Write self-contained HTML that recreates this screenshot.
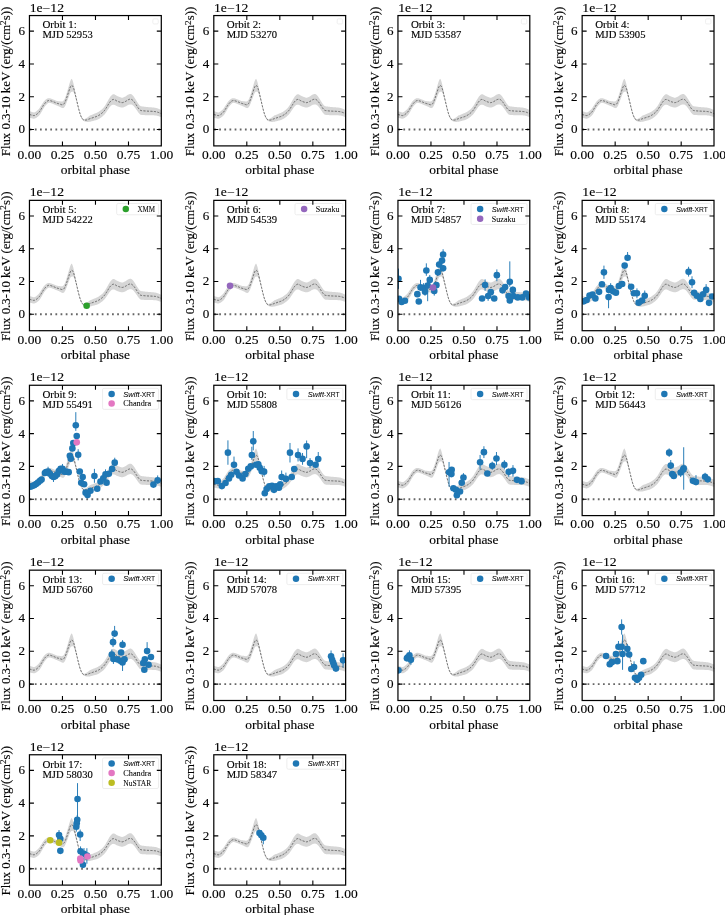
<!DOCTYPE html><html><head><meta charset="utf-8"><style>html,body{margin:0;padding:0;background:#fff;width:725px;height:915px;overflow:hidden}svg{display:block}</style></head><body><svg style="will-change:transform" width="725" height="915" viewBox="0 0 725 915"><rect width="725" height="915" fill="#fff"/><defs><g id="mdl"><path d="M29.45,111.14 L29.62,111.20 L29.85,111.28 L30.13,111.37 L30.43,111.47 L30.75,111.58 L31.08,111.68 L31.40,111.78 L31.69,111.87 L31.98,111.95 L32.27,112.05 L32.55,112.14 L32.84,112.23 L33.13,112.31 L33.41,112.37 L33.68,112.42 L33.94,112.43 L34.19,112.42 L34.43,112.38 L34.67,112.32 L34.90,112.23 L35.12,112.11 L35.34,111.98 L35.57,111.85 L35.79,111.71 L36.01,111.56 L36.22,111.41 L36.44,111.24 L36.65,111.06 L36.86,110.87 L37.07,110.67 L37.29,110.47 L37.51,110.26 L37.73,110.05 L37.95,109.84 L38.17,109.63 L38.40,109.42 L38.63,109.18 L38.86,108.92 L39.10,108.63 L39.35,108.30 L39.62,107.93 L39.89,107.51 L40.18,107.06 L40.47,106.58 L40.76,106.11 L41.05,105.68 L41.33,105.26 L41.60,104.86 L41.86,104.46 L42.11,104.06 L42.36,103.66 L42.61,103.27 L42.85,102.88 L43.09,102.50 L43.33,102.14 L43.58,101.80 L43.83,101.49 L44.07,101.20 L44.32,100.92 L44.57,100.65 L44.82,100.40 L45.06,100.16 L45.31,99.93 L45.56,99.71 L45.81,99.51 L46.06,99.31 L46.31,99.13 L46.57,98.96 L46.82,98.80 L47.06,98.66 L47.31,98.54 L47.54,98.44 L47.77,98.36 L47.98,98.30 L48.19,98.25 L48.40,98.22 L48.61,98.21 L48.82,98.21 L49.03,98.20 L49.26,98.20 L49.49,98.21 L49.72,98.24 L49.95,98.29 L50.19,98.35 L50.44,98.42 L50.69,98.51 L50.96,98.60 L51.24,98.69 L51.54,98.79 L51.85,98.89 L52.18,99.01 L52.52,99.14 L52.86,99.27 L53.20,99.40 L53.54,99.54 L53.88,99.67 L54.21,99.81 L54.53,99.95 L54.86,100.10 L55.18,100.25 L55.51,100.40 L55.84,100.55 L56.18,100.69 L56.52,100.82 L56.87,100.94 L57.23,101.04 L57.60,101.07 L57.96,101.10 L58.33,101.13 L58.70,101.16 L59.07,101.19 L59.43,101.23 L59.78,101.28 L60.15,101.34 L60.52,101.41 L60.88,101.48 L61.23,101.54 L61.57,101.58 L61.90,101.55 L62.20,101.48 L62.47,101.38 L62.73,101.27 L62.96,101.14 L63.18,100.99 L63.39,100.80 L63.61,100.57 L63.82,100.29 L64.05,99.95 L64.28,99.56 L64.50,99.14 L64.72,98.66 L64.95,98.15 L65.17,97.59 L65.41,96.98 L65.65,96.33 L65.90,95.63 L66.16,94.87 L66.43,94.02 L66.71,93.12 L67.00,92.18 L67.29,91.22 L67.58,90.26 L67.86,89.30 L68.14,88.37 L68.41,87.43 L68.69,86.46 L68.97,85.48 L69.24,84.52 L69.51,83.59 L69.77,82.73 L70.02,81.95 L70.25,81.29 L70.48,80.74 L70.68,80.25 L70.88,79.85 L71.07,79.51 L71.26,79.24 L71.44,79.05 L71.64,78.92 L71.84,78.85 L72.05,79.24 L72.26,79.70 L72.48,80.25 L72.70,80.86 L72.91,81.54 L73.13,82.26 L73.35,83.03 L73.55,83.83 L73.76,84.68 L73.96,85.60 L74.15,86.57 L74.35,87.58 L74.54,88.50 L74.74,89.44 L74.94,90.40 L75.14,91.36 L75.35,92.35 L75.56,93.37 L75.78,94.43 L76.00,95.50 L76.22,96.58 L76.43,97.66 L76.65,98.71 L76.86,99.74 L77.06,100.71 L77.26,101.58 L77.45,102.45 L77.65,103.30 L77.84,104.16 L78.04,105.00 L78.24,105.83 L78.44,106.66 L78.65,107.50 L78.86,108.34 L79.07,109.18 L79.29,110.01 L79.51,110.82 L79.72,111.60 L79.94,112.34 L80.16,113.02 L80.37,113.65 L80.58,114.24 L80.80,114.80 L81.01,115.31 L81.22,115.80 L81.44,116.26 L81.65,116.68 L81.87,117.08 L82.10,117.45 L82.32,117.79 L82.55,118.09 L82.77,118.37 L83.00,118.62 L83.24,118.84 L83.48,119.02 L83.72,119.13 L83.98,119.14 L84.24,119.10 L84.51,119.03 L84.79,118.93 L85.06,118.81 L85.33,118.69 L85.59,118.56 L85.84,118.44 L86.06,118.34 L86.28,118.23 L86.48,118.12 L86.68,118.00 L86.88,117.87 L87.09,117.74 L87.31,117.58 L87.55,117.41 L87.80,117.23 L88.05,117.04 L88.31,116.83 L88.58,116.62 L88.86,116.38 L89.18,116.13 L89.53,115.86 L89.93,115.57 L90.39,115.37 L90.92,115.15 L91.49,114.92 L92.08,114.68 L92.68,114.44 L93.26,114.21 L93.80,113.99 L94.29,113.79 L94.71,113.62 L95.09,113.47 L95.45,113.33 L95.78,113.20 L96.10,113.07 L96.41,112.93 L96.73,112.78 L97.06,112.62 L97.40,112.45 L97.73,112.28 L98.05,112.10 L98.38,111.91 L98.71,111.72 L99.03,111.51 L99.37,111.29 L99.70,111.06 L100.04,110.82 L100.39,110.57 L100.74,110.31 L101.10,110.04 L101.45,109.76 L101.80,109.46 L102.14,109.16 L102.47,108.85 L102.80,108.50 L103.12,108.14 L103.43,107.77 L103.74,107.40 L104.05,107.01 L104.36,106.60 L104.67,106.18 L104.98,105.73 L105.30,105.25 L105.61,104.74 L105.92,104.21 L106.24,103.67 L106.55,103.11 L106.86,102.56 L107.18,102.00 L107.49,101.46 L107.81,100.92 L108.12,100.36 L108.43,99.79 L108.75,99.23 L109.06,98.67 L109.37,98.15 L109.69,97.65 L110.00,97.19 L110.32,96.77 L110.64,96.37 L110.96,95.98 L111.29,95.63 L111.61,95.31 L111.92,95.02 L112.22,94.77 L112.51,94.57 L112.78,94.41 L113.03,94.30 L113.27,94.24 L113.51,94.21 L113.74,94.24 L113.98,94.29 L114.23,94.37 L114.49,94.46 L114.76,94.57 L115.04,94.72 L115.32,94.89 L115.61,95.09 L115.91,95.29 L116.22,95.49 L116.54,95.68 L116.87,95.86 L117.22,96.03 L117.59,96.20 L117.98,96.37 L118.38,96.54 L118.77,96.70 L119.17,96.85 L119.55,96.99 L119.90,97.12 L120.24,97.24 L120.56,97.35 L120.86,97.46 L121.16,97.55 L121.46,97.63 L121.76,97.69 L122.08,97.71 L122.41,97.70 L122.77,97.63 L123.14,97.51 L123.53,97.37 L123.92,97.20 L124.32,97.02 L124.71,96.82 L125.09,96.63 L125.45,96.43 L125.80,96.23 L126.14,96.01 L126.48,95.77 L126.80,95.53 L127.13,95.29 L127.45,95.07 L127.77,94.86 L128.09,94.69 L128.41,94.54 L128.74,94.39 L129.07,94.26 L129.39,94.15 L129.70,94.05 L130.01,93.98 L130.31,93.94 L130.60,93.93 L130.87,94.01 L131.13,94.11 L131.38,94.24 L131.62,94.39 L131.86,94.56 L132.10,94.75 L132.34,94.97 L132.58,95.20 L132.83,95.45 L133.08,95.73 L133.32,96.04 L133.57,96.36 L133.82,96.70 L134.07,97.05 L134.31,97.41 L134.56,97.77 L134.81,98.14 L135.06,98.53 L135.30,98.93 L135.55,99.34 L135.80,99.76 L136.05,100.18 L136.29,100.59 L136.54,100.99 L136.79,101.37 L137.04,101.76 L137.29,102.16 L137.53,102.55 L137.78,102.94 L138.03,103.31 L138.28,103.67 L138.52,103.99 L138.76,104.30 L138.99,104.60 L139.22,104.89 L139.45,105.16 L139.68,105.41 L139.93,105.64 L140.21,105.84 L140.50,106.02 L140.83,106.16 L141.17,106.27 L141.52,106.35 L141.90,106.41 L142.29,106.46 L142.69,106.50 L143.11,106.54 L143.54,106.60 L143.99,106.66 L144.47,106.73 L144.96,106.78 L145.46,106.84 L145.98,106.90 L146.49,106.95 L147.00,107.00 L147.50,107.05 L148.00,107.09 L148.49,107.13 L148.99,107.16 L149.48,107.20 L149.98,107.23 L150.47,107.27 L150.97,107.30 L151.46,107.35 L151.97,107.40 L152.49,107.45 L153.01,107.50 L153.54,107.55 L154.05,107.61 L154.54,107.68 L155.00,107.74 L155.43,107.82 L155.81,107.89 L156.16,107.97 L156.47,108.06 L156.77,108.15 L157.06,108.24 L157.34,108.34 L157.63,108.45 L157.93,108.56 L158.26,108.68 L158.60,108.82 L158.94,108.96 L159.28,109.11 L159.61,109.25 L159.92,109.39 L160.20,109.52 L160.44,109.63 L160.65,109.73 L160.83,109.81 L160.99,109.89 L161.13,109.96 L161.25,110.02 L161.34,110.08 L161.43,110.12 L161.50,110.16 L161.50,117.37 L161.43,117.34 L161.34,117.30 L161.25,117.25 L161.13,117.20 L160.99,117.14 L160.83,117.07 L160.65,117.00 L160.44,116.92 L160.20,116.82 L159.92,116.72 L159.61,116.60 L159.28,116.48 L158.94,116.35 L158.60,116.23 L158.26,116.12 L157.93,116.02 L157.63,115.93 L157.34,115.85 L157.06,115.77 L156.77,115.69 L156.47,115.62 L156.16,115.56 L155.81,115.50 L155.43,115.45 L155.00,115.41 L154.54,115.38 L154.05,115.35 L153.54,115.33 L153.01,115.31 L152.49,115.29 L151.97,115.28 L151.46,115.27 L150.97,115.26 L150.47,115.25 L149.98,115.25 L149.48,115.25 L148.99,115.25 L148.49,115.25 L148.00,115.25 L147.50,115.24 L147.00,115.22 L146.49,115.20 L145.98,115.18 L145.46,115.16 L144.96,115.13 L144.47,115.10 L143.99,115.07 L143.54,115.03 L143.11,115.00 L142.69,114.98 L142.29,114.96 L141.90,114.94 L141.52,114.90 L141.17,114.84 L140.83,114.75 L140.50,114.63 L140.21,114.47 L139.93,114.28 L139.68,114.07 L139.45,113.83 L139.22,113.57 L138.99,113.30 L138.76,113.02 L138.52,112.72 L138.28,112.41 L138.03,112.07 L137.78,111.71 L137.53,111.34 L137.29,110.96 L137.04,110.57 L136.79,110.20 L136.54,109.83 L136.29,109.48 L136.05,109.13 L135.80,108.78 L135.55,108.44 L135.30,108.10 L135.06,107.76 L134.81,107.45 L134.56,107.14 L134.31,106.85 L134.07,106.56 L133.82,106.28 L133.57,106.01 L133.32,105.76 L133.08,105.52 L132.83,105.31 L132.58,105.13 L132.34,104.96 L132.10,104.82 L131.86,104.69 L131.62,104.59 L131.38,104.50 L131.13,104.45 L130.87,104.42 L130.60,104.42 L130.31,104.41 L130.01,104.43 L129.70,104.47 L129.39,104.54 L129.07,104.63 L128.74,104.73 L128.41,104.85 L128.09,104.98 L127.77,105.13 L127.45,105.30 L127.13,105.50 L126.80,105.72 L126.48,105.93 L126.14,106.14 L125.80,106.34 L125.45,106.51 L125.09,106.68 L124.71,106.84 L124.32,107.00 L123.92,107.16 L123.53,107.29 L123.14,107.41 L122.77,107.49 L122.41,107.54 L122.08,107.57 L121.76,107.57 L121.46,107.54 L121.16,107.48 L120.86,107.41 L120.56,107.32 L120.24,107.23 L119.90,107.14 L119.55,107.04 L119.17,106.93 L118.77,106.81 L118.38,106.67 L117.98,106.53 L117.59,106.39 L117.22,106.25 L116.87,106.10 L116.54,105.95 L116.22,105.78 L115.91,105.60 L115.61,105.42 L115.32,105.25 L115.04,105.10 L114.76,104.97 L114.49,104.88 L114.23,104.81 L113.98,104.75 L113.74,104.71 L113.51,104.68 L113.27,104.65 L113.03,104.65 L112.78,104.69 L112.51,104.77 L112.22,104.90 L111.92,105.07 L111.61,105.27 L111.29,105.51 L110.96,105.78 L110.64,106.08 L110.32,106.40 L110.00,106.74 L109.69,107.11 L109.37,107.52 L109.06,107.97 L108.75,108.43 L108.43,108.91 L108.12,109.40 L107.81,109.87 L107.49,110.34 L107.18,110.79 L106.86,111.26 L106.55,111.74 L106.24,112.21 L105.92,112.67 L105.61,113.12 L105.30,113.54 L104.98,113.94 L104.67,114.30 L104.36,114.65 L104.05,114.97 L103.74,115.28 L103.43,115.57 L103.12,115.85 L102.80,116.12 L102.47,116.39 L102.14,116.68 L101.80,116.96 L101.45,117.23 L101.10,117.49 L100.74,117.74 L100.39,117.98 L100.04,118.21 L99.70,118.43 L99.37,118.64 L99.03,118.84 L98.71,119.03 L98.38,119.20 L98.05,119.37 L97.73,119.53 L97.40,119.68 L97.06,119.83 L96.73,119.95 L96.41,120.05 L96.10,120.15 L95.78,120.23 L95.45,120.32 L95.09,120.41 L94.71,120.51 L94.29,120.62 L93.80,120.75 L93.26,120.90 L92.68,121.05 L92.08,121.21 L91.49,121.37 L90.92,121.52 L90.39,121.66 L89.93,121.80 L89.53,121.80 L89.18,121.82 L88.86,121.84 L88.58,121.86 L88.31,121.89 L88.05,121.91 L87.80,121.92 L87.55,121.92 L87.31,121.91 L87.09,121.91 L86.88,121.89 L86.68,121.87 L86.48,121.85 L86.28,121.81 L86.06,121.77 L85.84,121.71 L85.59,121.64 L85.33,121.58 L85.06,121.52 L84.79,121.44 L84.51,121.34 L84.24,121.21 L83.98,121.06 L83.72,120.86 L83.48,120.68 L83.24,120.53 L83.00,120.34 L82.77,120.13 L82.55,119.89 L82.32,119.62 L82.10,119.31 L81.87,118.97 L81.65,118.61 L81.44,118.22 L81.22,117.79 L81.01,117.34 L80.80,116.85 L80.58,116.33 L80.37,115.77 L80.16,115.17 L79.94,114.52 L79.72,113.82 L79.51,113.07 L79.29,112.29 L79.07,111.49 L78.86,110.68 L78.65,109.87 L78.44,109.07 L78.24,108.27 L78.04,107.46 L77.84,106.65 L77.65,105.83 L77.45,105.00 L77.26,104.16 L77.06,103.32 L76.86,102.55 L76.65,101.80 L76.43,101.04 L76.22,100.26 L76.00,99.48 L75.78,98.70 L75.56,97.94 L75.35,97.21 L75.14,96.51 L74.94,95.82 L74.74,95.14 L74.54,94.46 L74.35,93.81 L74.15,93.33 L73.96,92.90 L73.76,92.53 L73.55,92.23 L73.35,92.01 L73.13,91.82 L72.91,91.69 L72.70,91.62 L72.48,91.60 L72.26,91.65 L72.05,91.77 L71.84,91.97 L71.64,91.87 L71.44,91.85 L71.26,91.89 L71.07,92.01 L70.88,92.19 L70.68,92.44 L70.48,92.76 L70.25,93.14 L70.02,93.60 L69.77,94.18 L69.51,94.83 L69.24,95.55 L68.97,96.29 L68.69,97.05 L68.41,97.80 L68.14,98.52 L67.86,99.23 L67.58,99.99 L67.29,100.78 L67.00,101.57 L66.71,102.34 L66.43,103.07 L66.16,103.75 L65.90,104.36 L65.65,104.91 L65.41,105.42 L65.17,105.89 L64.95,106.31 L64.72,106.70 L64.50,107.04 L64.28,107.33 L64.05,107.58 L63.82,107.79 L63.61,107.94 L63.39,108.04 L63.18,108.11 L62.96,108.13 L62.73,108.12 L62.47,108.09 L62.20,108.02 L61.90,107.92 L61.57,107.77 L61.23,107.61 L60.88,107.42 L60.52,107.22 L60.15,107.02 L59.78,106.82 L59.43,106.64 L59.07,106.47 L58.70,106.31 L58.33,106.14 L57.96,105.98 L57.60,105.81 L57.23,105.64 L56.87,105.52 L56.52,105.41 L56.18,105.28 L55.84,105.14 L55.51,104.99 L55.18,104.84 L54.86,104.69 L54.53,104.54 L54.21,104.40 L53.88,104.26 L53.54,104.13 L53.20,103.99 L52.86,103.86 L52.52,103.73 L52.18,103.60 L51.85,103.48 L51.54,103.37 L51.24,103.28 L50.96,103.18 L50.69,103.10 L50.44,103.01 L50.19,102.94 L49.95,102.88 L49.72,102.83 L49.49,102.80 L49.26,102.78 L49.03,102.79 L48.82,102.82 L48.61,102.89 L48.40,102.98 L48.19,103.09 L47.98,103.21 L47.77,103.36 L47.54,103.52 L47.31,103.71 L47.06,103.92 L46.82,104.15 L46.57,104.40 L46.31,104.66 L46.06,104.94 L45.81,105.23 L45.56,105.53 L45.31,105.84 L45.06,106.16 L44.82,106.49 L44.57,106.84 L44.32,107.20 L44.07,107.57 L43.83,107.96 L43.58,108.36 L43.33,108.75 L43.09,109.17 L42.85,109.60 L42.61,110.04 L42.36,110.50 L42.11,110.95 L41.86,111.41 L41.60,111.86 L41.33,112.32 L41.05,112.81 L40.76,113.30 L40.47,113.76 L40.18,114.19 L39.89,114.59 L39.62,114.96 L39.35,115.30 L39.10,115.58 L38.86,115.83 L38.63,116.05 L38.40,116.25 L38.17,116.43 L37.95,116.60 L37.73,116.77 L37.51,116.95 L37.29,117.12 L37.07,117.29 L36.86,117.45 L36.65,117.60 L36.44,117.75 L36.22,117.88 L36.01,118.00 L35.79,118.11 L35.57,118.22 L35.34,118.31 L35.12,118.40 L34.90,118.48 L34.67,118.55 L34.43,118.62 L34.19,118.68 L33.94,118.71 L33.68,118.71 L33.41,118.69 L33.13,118.64 L32.84,118.58 L32.55,118.51 L32.27,118.43 L31.98,118.35 L31.69,118.29 L31.40,118.22 L31.08,118.14 L30.75,118.05 L30.43,117.97 L30.13,117.88 L29.85,117.81 L29.62,117.75 L29.45,117.70Z" fill="#d6d6d6" stroke="none"/><path d="M29.45,114.42 L29.62,114.47 L29.85,114.54 L30.13,114.63 L30.43,114.72 L30.75,114.81 L31.08,114.91 L31.40,115.00 L31.69,115.08 L31.98,115.15 L32.27,115.24 L32.55,115.32 L32.84,115.40 L33.13,115.48 L33.41,115.53 L33.68,115.56 L33.94,115.57 L34.19,115.55 L34.43,115.50 L34.67,115.44 L34.90,115.35 L35.12,115.26 L35.34,115.15 L35.57,115.03 L35.79,114.91 L36.01,114.78 L36.22,114.64 L36.44,114.49 L36.65,114.33 L36.86,114.16 L37.07,113.98 L37.29,113.79 L37.51,113.60 L37.73,113.41 L37.95,113.22 L38.17,113.03 L38.40,112.83 L38.63,112.62 L38.86,112.38 L39.10,112.11 L39.35,111.80 L39.62,111.45 L39.89,111.05 L40.18,110.62 L40.47,110.17 L40.76,109.71 L41.05,109.24 L41.33,108.79 L41.60,108.36 L41.86,107.93 L42.11,107.51 L42.36,107.08 L42.61,106.66 L42.85,106.24 L43.09,105.84 L43.33,105.45 L43.58,105.08 L43.83,104.73 L44.07,104.39 L44.32,104.06 L44.57,103.75 L44.82,103.45 L45.06,103.16 L45.31,102.88 L45.56,102.62 L45.81,102.37 L46.06,102.13 L46.31,101.90 L46.57,101.68 L46.82,101.48 L47.06,101.29 L47.31,101.13 L47.54,100.98 L47.77,100.86 L47.98,100.75 L48.19,100.67 L48.40,100.60 L48.61,100.55 L48.82,100.52 L49.03,100.50 L49.26,100.49 L49.49,100.50 L49.72,100.53 L49.95,100.58 L50.19,100.64 L50.44,100.72 L50.69,100.80 L50.96,100.89 L51.24,100.98 L51.54,101.08 L51.85,101.19 L52.18,101.31 L52.52,101.43 L52.86,101.56 L53.20,101.70 L53.54,101.83 L53.88,101.96 L54.21,102.10 L54.53,102.25 L54.86,102.40 L55.18,102.55 L55.51,102.70 L55.84,102.84 L56.18,102.98 L56.52,103.11 L56.87,103.23 L57.23,103.34 L57.60,103.44 L57.96,103.54 L58.33,103.64 L58.70,103.73 L59.07,103.83 L59.43,103.93 L59.78,104.05 L60.15,104.18 L60.52,104.32 L60.88,104.45 L61.23,104.58 L61.57,104.67 L61.90,104.73 L62.20,104.75 L62.47,104.73 L62.73,104.70 L62.96,104.64 L63.18,104.55 L63.39,104.42 L63.61,104.25 L63.82,104.04 L64.05,103.77 L64.28,103.45 L64.50,103.09 L64.72,102.68 L64.95,102.23 L65.17,101.74 L65.41,101.20 L65.65,100.62 L65.90,100.00 L66.16,99.31 L66.43,98.55 L66.71,97.73 L67.00,96.87 L67.29,96.00 L67.58,95.12 L67.86,94.26 L68.14,93.44 L68.41,92.62 L68.69,91.76 L68.97,90.89 L69.24,90.03 L69.51,89.21 L69.77,88.45 L70.02,87.78 L70.25,87.21 L70.48,86.75 L70.68,86.35 L70.88,86.02 L71.07,85.76 L71.26,85.57 L71.44,85.45 L71.64,85.39 L71.84,85.41 L72.05,85.50 L72.26,85.68 L72.48,85.93 L72.70,86.24 L72.91,86.62 L73.13,87.04 L73.35,87.52 L73.55,88.03 L73.76,88.61 L73.96,89.25 L74.15,89.95 L74.35,90.70 L74.54,91.48 L74.74,92.29 L74.94,93.11 L75.14,93.93 L75.35,94.78 L75.56,95.66 L75.78,96.56 L76.00,97.49 L76.22,98.42 L76.43,99.35 L76.65,100.26 L76.86,101.15 L77.06,102.01 L77.26,102.87 L77.45,103.72 L77.65,104.57 L77.84,105.40 L78.04,106.23 L78.24,107.05 L78.44,107.87 L78.65,108.68 L78.86,109.51 L79.07,110.34 L79.29,111.15 L79.51,111.95 L79.72,112.71 L79.94,113.43 L80.16,114.09 L80.37,114.71 L80.58,115.28 L80.80,115.82 L81.01,116.33 L81.22,116.80 L81.44,117.24 L81.65,117.65 L81.87,118.03 L82.10,118.38 L82.32,118.70 L82.55,118.99 L82.77,119.25 L83.00,119.48 L83.24,119.68 L83.48,119.85 L83.72,119.99 L83.98,120.10 L84.24,120.16 L84.51,120.18 L84.79,120.18 L85.06,120.16 L85.33,120.13 L85.59,120.10 L85.84,120.08 L86.06,120.05 L86.28,120.02 L86.48,119.98 L86.68,119.94 L86.88,119.88 L87.09,119.82 L87.31,119.75 L87.55,119.67 L87.80,119.57 L88.05,119.47 L88.31,119.36 L88.58,119.24 L88.86,119.11 L89.18,118.98 L89.53,118.83 L89.93,118.68 L90.39,118.52 L90.92,118.34 L91.49,118.14 L92.08,117.95 L92.68,117.75 L93.26,117.55 L93.80,117.37 L94.29,117.21 L94.71,117.06 L95.09,116.94 L95.45,116.82 L95.78,116.72 L96.10,116.61 L96.41,116.49 L96.73,116.37 L97.06,116.22 L97.40,116.07 L97.73,115.91 L98.05,115.74 L98.38,115.56 L98.71,115.37 L99.03,115.18 L99.37,114.97 L99.70,114.75 L100.04,114.52 L100.39,114.28 L100.74,114.03 L101.10,113.77 L101.45,113.49 L101.80,113.21 L102.14,112.92 L102.47,112.62 L102.80,112.31 L103.12,111.99 L103.43,111.67 L103.74,111.34 L104.05,110.99 L104.36,110.62 L104.67,110.24 L104.98,109.83 L105.30,109.40 L105.61,108.93 L105.92,108.44 L106.24,107.94 L106.55,107.42 L106.86,106.91 L107.18,106.40 L107.49,105.90 L107.81,105.40 L108.12,104.88 L108.43,104.35 L108.75,103.83 L109.06,103.32 L109.37,102.83 L109.69,102.38 L110.00,101.96 L110.32,101.58 L110.64,101.22 L110.96,100.88 L111.29,100.57 L111.61,100.29 L111.92,100.04 L112.22,99.84 L112.51,99.67 L112.78,99.55 L113.03,99.48 L113.27,99.44 L113.51,99.44 L113.74,99.47 L113.98,99.52 L114.23,99.59 L114.49,99.67 L114.76,99.77 L115.04,99.91 L115.32,100.07 L115.61,100.25 L115.91,100.44 L116.22,100.63 L116.54,100.82 L116.87,100.98 L117.22,101.14 L117.59,101.30 L117.98,101.45 L118.38,101.61 L118.77,101.75 L119.17,101.89 L119.55,102.02 L119.90,102.13 L120.24,102.23 L120.56,102.34 L120.86,102.43 L121.16,102.52 L121.46,102.58 L121.76,102.63 L122.08,102.64 L122.41,102.62 L122.77,102.56 L123.14,102.46 L123.53,102.33 L123.92,102.18 L124.32,102.01 L124.71,101.83 L125.09,101.65 L125.45,101.47 L125.80,101.29 L126.14,101.07 L126.48,100.85 L126.80,100.62 L127.13,100.40 L127.45,100.19 L127.77,100.00 L128.09,99.83 L128.41,99.69 L128.74,99.56 L129.07,99.44 L129.39,99.34 L129.70,99.26 L130.01,99.20 L130.31,99.18 L130.60,99.18 L130.87,99.21 L131.13,99.28 L131.38,99.37 L131.62,99.49 L131.86,99.63 L132.10,99.79 L132.34,99.97 L132.58,100.16 L132.83,100.38 L133.08,100.63 L133.32,100.90 L133.57,101.19 L133.82,101.49 L134.07,101.81 L134.31,102.13 L134.56,102.46 L134.81,102.79 L135.06,103.15 L135.30,103.51 L135.55,103.89 L135.80,104.27 L136.05,104.65 L136.29,105.03 L136.54,105.41 L136.79,105.78 L137.04,106.17 L137.29,106.56 L137.53,106.94 L137.78,107.32 L138.03,107.69 L138.28,108.04 L138.52,108.36 L138.76,108.66 L138.99,108.95 L139.22,109.23 L139.45,109.49 L139.68,109.74 L139.93,109.96 L140.21,110.16 L140.50,110.32 L140.83,110.46 L141.17,110.55 L141.52,110.62 L141.90,110.67 L142.29,110.71 L142.69,110.74 L143.11,110.77 L143.54,110.82 L143.99,110.87 L144.47,110.91 L144.96,110.96 L145.46,111.00 L145.98,111.04 L146.49,111.08 L147.00,111.11 L147.50,111.14 L148.00,111.17 L148.49,111.19 L148.99,111.21 L149.48,111.23 L149.98,111.24 L150.47,111.26 L150.97,111.28 L151.46,111.31 L151.97,111.34 L152.49,111.37 L153.01,111.40 L153.54,111.44 L154.05,111.48 L154.54,111.53 L155.00,111.58 L155.43,111.63 L155.81,111.70 L156.16,111.77 L156.47,111.84 L156.77,111.92 L157.06,112.01 L157.34,112.10 L157.63,112.19 L157.93,112.29 L158.26,112.40 L158.60,112.52 L158.94,112.66 L159.28,112.79 L159.61,112.93 L159.92,113.05 L160.20,113.17 L160.44,113.27 L160.65,113.36 L160.83,113.44 L160.99,113.52 L161.13,113.58 L161.25,113.64 L161.34,113.69 L161.43,113.73 L161.50,113.77" fill="none" stroke="#555" stroke-width="0.9" stroke-dasharray="2.1,1.4"/></g><clipPath id="ac"><rect x="29.45" y="15.56" width="131.85" height="130.34"/></clipPath></defs><g transform="translate(0.00,0.00)"><use href="#mdl"/><line x1="29.70" y1="129.50" x2="161.30" y2="129.50" stroke="#666" stroke-width="1.9" stroke-dasharray="1.75,3.395"/><rect x="152.85" y="18.86" width="5.4" height="5.1" rx="1.2" fill="none" stroke="#ededed" stroke-width="0.9"/><rect x="29.45" y="15.56" width="131.85" height="130.34" fill="none" stroke="#000" stroke-width="1.22"/><path d="M62.46,145.90v-4.5M62.46,15.56v4.5M95.48,145.90v-4.5M95.48,15.56v4.5M128.49,145.90v-4.5M128.49,15.56v4.5M29.45,129.50h4.5M161.30,129.50h-4.5M29.45,96.72h4.5M161.30,96.72h-4.5M29.45,63.94h4.5M161.30,63.94h-4.5M29.45,31.16h4.5M161.30,31.16h-4.5" stroke="#000" stroke-width="1.1" fill="none"/><text x="29.45" y="158.80" font-size="11.54" textLength="23.62" lengthAdjust="spacingAndGlyphs" text-anchor="middle"  stroke="#000" stroke-width="0.12" style="font-family:'Liberation Serif', serif">0.00</text><text x="62.46" y="158.80" font-size="11.54" textLength="23.62" lengthAdjust="spacingAndGlyphs" text-anchor="middle"  stroke="#000" stroke-width="0.12" style="font-family:'Liberation Serif', serif">0.25</text><text x="95.48" y="158.80" font-size="11.54" textLength="23.62" lengthAdjust="spacingAndGlyphs" text-anchor="middle"  stroke="#000" stroke-width="0.12" style="font-family:'Liberation Serif', serif">0.50</text><text x="128.49" y="158.80" font-size="11.54" textLength="23.62" lengthAdjust="spacingAndGlyphs" text-anchor="middle"  stroke="#000" stroke-width="0.12" style="font-family:'Liberation Serif', serif">0.75</text><text x="161.50" y="158.80" font-size="11.54" textLength="23.62" lengthAdjust="spacingAndGlyphs" text-anchor="middle"  stroke="#000" stroke-width="0.12" style="font-family:'Liberation Serif', serif">1.00</text><text x="24.95" y="133.40" font-size="11.54" textLength="6.55" lengthAdjust="spacingAndGlyphs" text-anchor="end"  stroke="#000" stroke-width="0.12" style="font-family:'Liberation Serif', serif">0</text><text x="24.95" y="100.62" font-size="11.54" textLength="6.55" lengthAdjust="spacingAndGlyphs" text-anchor="end"  stroke="#000" stroke-width="0.12" style="font-family:'Liberation Serif', serif">2</text><text x="24.95" y="67.84" font-size="11.54" textLength="6.55" lengthAdjust="spacingAndGlyphs" text-anchor="end"  stroke="#000" stroke-width="0.12" style="font-family:'Liberation Serif', serif">4</text><text x="24.95" y="35.06" font-size="11.54" textLength="6.55" lengthAdjust="spacingAndGlyphs" text-anchor="end"  stroke="#000" stroke-width="0.12" style="font-family:'Liberation Serif', serif">6</text><text x="29.65" y="11.66" font-size="11.54" textLength="34.39" lengthAdjust="spacingAndGlyphs" text-anchor="start"  stroke="#000" stroke-width="0.12" style="font-family:'Liberation Serif', serif">1e−12</text><text x="95.48" y="174.00" font-size="11.65" textLength="69.28" lengthAdjust="spacingAndGlyphs" text-anchor="middle"  stroke="#000" stroke-width="0.12" style="font-family:'Liberation Serif', serif">orbital phase</text><g transform="translate(10.10,81.53) rotate(-90)"><text x="-74.72" y="0.00" font-size="11.65" textLength="131.37" lengthAdjust="spacingAndGlyphs" text-anchor="start"  stroke="#000" stroke-width="0.12" style="font-family:'Liberation Serif', serif">Flux 0.3-10 keV (erg/(cm</text><text x="56.64" y="-3.80" font-size="8.15" textLength="4.63" lengthAdjust="spacingAndGlyphs" text-anchor="start"  stroke="#000" stroke-width="0.12" style="font-family:'Liberation Serif', serif">2</text><text x="61.27" y="0.00" font-size="11.65" textLength="13.45" lengthAdjust="spacingAndGlyphs" text-anchor="start"  stroke="#000" stroke-width="0.12" style="font-family:'Liberation Serif', serif">s))</text></g><text x="42.45" y="28.41" font-size="9.46" textLength="34.38" lengthAdjust="spacingAndGlyphs" text-anchor="start"  stroke="#000" stroke-width="0.12" style="font-family:'Liberation Serif', serif">Orbit 1:</text><text x="42.45" y="38.41" font-size="9.46" textLength="50.32" lengthAdjust="spacingAndGlyphs" text-anchor="start"  stroke="#000" stroke-width="0.12" style="font-family:'Liberation Serif', serif">MJD 52953</text></g><g transform="translate(184.35,0.00)"><use href="#mdl"/><line x1="29.70" y1="129.50" x2="161.30" y2="129.50" stroke="#666" stroke-width="1.9" stroke-dasharray="1.75,3.395"/><rect x="152.85" y="18.86" width="5.4" height="5.1" rx="1.2" fill="none" stroke="#ededed" stroke-width="0.9"/><rect x="29.45" y="15.56" width="131.85" height="130.34" fill="none" stroke="#000" stroke-width="1.22"/><path d="M62.46,145.90v-4.5M62.46,15.56v4.5M95.48,145.90v-4.5M95.48,15.56v4.5M128.49,145.90v-4.5M128.49,15.56v4.5M29.45,129.50h4.5M161.30,129.50h-4.5M29.45,96.72h4.5M161.30,96.72h-4.5M29.45,63.94h4.5M161.30,63.94h-4.5M29.45,31.16h4.5M161.30,31.16h-4.5" stroke="#000" stroke-width="1.1" fill="none"/><text x="29.45" y="158.80" font-size="11.54" textLength="23.62" lengthAdjust="spacingAndGlyphs" text-anchor="middle"  stroke="#000" stroke-width="0.12" style="font-family:'Liberation Serif', serif">0.00</text><text x="62.46" y="158.80" font-size="11.54" textLength="23.62" lengthAdjust="spacingAndGlyphs" text-anchor="middle"  stroke="#000" stroke-width="0.12" style="font-family:'Liberation Serif', serif">0.25</text><text x="95.48" y="158.80" font-size="11.54" textLength="23.62" lengthAdjust="spacingAndGlyphs" text-anchor="middle"  stroke="#000" stroke-width="0.12" style="font-family:'Liberation Serif', serif">0.50</text><text x="128.49" y="158.80" font-size="11.54" textLength="23.62" lengthAdjust="spacingAndGlyphs" text-anchor="middle"  stroke="#000" stroke-width="0.12" style="font-family:'Liberation Serif', serif">0.75</text><text x="161.50" y="158.80" font-size="11.54" textLength="23.62" lengthAdjust="spacingAndGlyphs" text-anchor="middle"  stroke="#000" stroke-width="0.12" style="font-family:'Liberation Serif', serif">1.00</text><text x="24.95" y="133.40" font-size="11.54" textLength="6.55" lengthAdjust="spacingAndGlyphs" text-anchor="end"  stroke="#000" stroke-width="0.12" style="font-family:'Liberation Serif', serif">0</text><text x="24.95" y="100.62" font-size="11.54" textLength="6.55" lengthAdjust="spacingAndGlyphs" text-anchor="end"  stroke="#000" stroke-width="0.12" style="font-family:'Liberation Serif', serif">2</text><text x="24.95" y="67.84" font-size="11.54" textLength="6.55" lengthAdjust="spacingAndGlyphs" text-anchor="end"  stroke="#000" stroke-width="0.12" style="font-family:'Liberation Serif', serif">4</text><text x="24.95" y="35.06" font-size="11.54" textLength="6.55" lengthAdjust="spacingAndGlyphs" text-anchor="end"  stroke="#000" stroke-width="0.12" style="font-family:'Liberation Serif', serif">6</text><text x="29.65" y="11.66" font-size="11.54" textLength="34.39" lengthAdjust="spacingAndGlyphs" text-anchor="start"  stroke="#000" stroke-width="0.12" style="font-family:'Liberation Serif', serif">1e−12</text><text x="95.48" y="174.00" font-size="11.65" textLength="69.28" lengthAdjust="spacingAndGlyphs" text-anchor="middle"  stroke="#000" stroke-width="0.12" style="font-family:'Liberation Serif', serif">orbital phase</text><g transform="translate(10.10,81.53) rotate(-90)"><text x="-74.72" y="0.00" font-size="11.65" textLength="131.37" lengthAdjust="spacingAndGlyphs" text-anchor="start"  stroke="#000" stroke-width="0.12" style="font-family:'Liberation Serif', serif">Flux 0.3-10 keV (erg/(cm</text><text x="56.64" y="-3.80" font-size="8.15" textLength="4.63" lengthAdjust="spacingAndGlyphs" text-anchor="start"  stroke="#000" stroke-width="0.12" style="font-family:'Liberation Serif', serif">2</text><text x="61.27" y="0.00" font-size="11.65" textLength="13.45" lengthAdjust="spacingAndGlyphs" text-anchor="start"  stroke="#000" stroke-width="0.12" style="font-family:'Liberation Serif', serif">s))</text></g><text x="42.45" y="28.41" font-size="9.46" textLength="34.38" lengthAdjust="spacingAndGlyphs" text-anchor="start"  stroke="#000" stroke-width="0.12" style="font-family:'Liberation Serif', serif">Orbit 2:</text><text x="42.45" y="38.41" font-size="9.46" textLength="50.32" lengthAdjust="spacingAndGlyphs" text-anchor="start"  stroke="#000" stroke-width="0.12" style="font-family:'Liberation Serif', serif">MJD 53270</text></g><g transform="translate(368.50,0.00)"><use href="#mdl"/><line x1="29.70" y1="129.50" x2="161.30" y2="129.50" stroke="#666" stroke-width="1.9" stroke-dasharray="1.75,3.395"/><rect x="152.85" y="18.86" width="5.4" height="5.1" rx="1.2" fill="none" stroke="#ededed" stroke-width="0.9"/><rect x="29.45" y="15.56" width="131.85" height="130.34" fill="none" stroke="#000" stroke-width="1.22"/><path d="M62.46,145.90v-4.5M62.46,15.56v4.5M95.48,145.90v-4.5M95.48,15.56v4.5M128.49,145.90v-4.5M128.49,15.56v4.5M29.45,129.50h4.5M161.30,129.50h-4.5M29.45,96.72h4.5M161.30,96.72h-4.5M29.45,63.94h4.5M161.30,63.94h-4.5M29.45,31.16h4.5M161.30,31.16h-4.5" stroke="#000" stroke-width="1.1" fill="none"/><text x="29.45" y="158.80" font-size="11.54" textLength="23.62" lengthAdjust="spacingAndGlyphs" text-anchor="middle"  stroke="#000" stroke-width="0.12" style="font-family:'Liberation Serif', serif">0.00</text><text x="62.46" y="158.80" font-size="11.54" textLength="23.62" lengthAdjust="spacingAndGlyphs" text-anchor="middle"  stroke="#000" stroke-width="0.12" style="font-family:'Liberation Serif', serif">0.25</text><text x="95.48" y="158.80" font-size="11.54" textLength="23.62" lengthAdjust="spacingAndGlyphs" text-anchor="middle"  stroke="#000" stroke-width="0.12" style="font-family:'Liberation Serif', serif">0.50</text><text x="128.49" y="158.80" font-size="11.54" textLength="23.62" lengthAdjust="spacingAndGlyphs" text-anchor="middle"  stroke="#000" stroke-width="0.12" style="font-family:'Liberation Serif', serif">0.75</text><text x="161.50" y="158.80" font-size="11.54" textLength="23.62" lengthAdjust="spacingAndGlyphs" text-anchor="middle"  stroke="#000" stroke-width="0.12" style="font-family:'Liberation Serif', serif">1.00</text><text x="24.95" y="133.40" font-size="11.54" textLength="6.55" lengthAdjust="spacingAndGlyphs" text-anchor="end"  stroke="#000" stroke-width="0.12" style="font-family:'Liberation Serif', serif">0</text><text x="24.95" y="100.62" font-size="11.54" textLength="6.55" lengthAdjust="spacingAndGlyphs" text-anchor="end"  stroke="#000" stroke-width="0.12" style="font-family:'Liberation Serif', serif">2</text><text x="24.95" y="67.84" font-size="11.54" textLength="6.55" lengthAdjust="spacingAndGlyphs" text-anchor="end"  stroke="#000" stroke-width="0.12" style="font-family:'Liberation Serif', serif">4</text><text x="24.95" y="35.06" font-size="11.54" textLength="6.55" lengthAdjust="spacingAndGlyphs" text-anchor="end"  stroke="#000" stroke-width="0.12" style="font-family:'Liberation Serif', serif">6</text><text x="29.65" y="11.66" font-size="11.54" textLength="34.39" lengthAdjust="spacingAndGlyphs" text-anchor="start"  stroke="#000" stroke-width="0.12" style="font-family:'Liberation Serif', serif">1e−12</text><text x="95.48" y="174.00" font-size="11.65" textLength="69.28" lengthAdjust="spacingAndGlyphs" text-anchor="middle"  stroke="#000" stroke-width="0.12" style="font-family:'Liberation Serif', serif">orbital phase</text><g transform="translate(10.10,81.53) rotate(-90)"><text x="-74.72" y="0.00" font-size="11.65" textLength="131.37" lengthAdjust="spacingAndGlyphs" text-anchor="start"  stroke="#000" stroke-width="0.12" style="font-family:'Liberation Serif', serif">Flux 0.3-10 keV (erg/(cm</text><text x="56.64" y="-3.80" font-size="8.15" textLength="4.63" lengthAdjust="spacingAndGlyphs" text-anchor="start"  stroke="#000" stroke-width="0.12" style="font-family:'Liberation Serif', serif">2</text><text x="61.27" y="0.00" font-size="11.65" textLength="13.45" lengthAdjust="spacingAndGlyphs" text-anchor="start"  stroke="#000" stroke-width="0.12" style="font-family:'Liberation Serif', serif">s))</text></g><text x="42.45" y="28.41" font-size="9.46" textLength="34.38" lengthAdjust="spacingAndGlyphs" text-anchor="start"  stroke="#000" stroke-width="0.12" style="font-family:'Liberation Serif', serif">Orbit 3:</text><text x="42.45" y="38.41" font-size="9.46" textLength="50.32" lengthAdjust="spacingAndGlyphs" text-anchor="start"  stroke="#000" stroke-width="0.12" style="font-family:'Liberation Serif', serif">MJD 53587</text></g><g transform="translate(552.70,0.00)"><use href="#mdl"/><line x1="29.70" y1="129.50" x2="161.30" y2="129.50" stroke="#666" stroke-width="1.9" stroke-dasharray="1.75,3.395"/><rect x="152.85" y="18.86" width="5.4" height="5.1" rx="1.2" fill="none" stroke="#ededed" stroke-width="0.9"/><rect x="29.45" y="15.56" width="131.85" height="130.34" fill="none" stroke="#000" stroke-width="1.22"/><path d="M62.46,145.90v-4.5M62.46,15.56v4.5M95.48,145.90v-4.5M95.48,15.56v4.5M128.49,145.90v-4.5M128.49,15.56v4.5M29.45,129.50h4.5M161.30,129.50h-4.5M29.45,96.72h4.5M161.30,96.72h-4.5M29.45,63.94h4.5M161.30,63.94h-4.5M29.45,31.16h4.5M161.30,31.16h-4.5" stroke="#000" stroke-width="1.1" fill="none"/><text x="29.45" y="158.80" font-size="11.54" textLength="23.62" lengthAdjust="spacingAndGlyphs" text-anchor="middle"  stroke="#000" stroke-width="0.12" style="font-family:'Liberation Serif', serif">0.00</text><text x="62.46" y="158.80" font-size="11.54" textLength="23.62" lengthAdjust="spacingAndGlyphs" text-anchor="middle"  stroke="#000" stroke-width="0.12" style="font-family:'Liberation Serif', serif">0.25</text><text x="95.48" y="158.80" font-size="11.54" textLength="23.62" lengthAdjust="spacingAndGlyphs" text-anchor="middle"  stroke="#000" stroke-width="0.12" style="font-family:'Liberation Serif', serif">0.50</text><text x="128.49" y="158.80" font-size="11.54" textLength="23.62" lengthAdjust="spacingAndGlyphs" text-anchor="middle"  stroke="#000" stroke-width="0.12" style="font-family:'Liberation Serif', serif">0.75</text><text x="161.50" y="158.80" font-size="11.54" textLength="23.62" lengthAdjust="spacingAndGlyphs" text-anchor="middle"  stroke="#000" stroke-width="0.12" style="font-family:'Liberation Serif', serif">1.00</text><text x="24.95" y="133.40" font-size="11.54" textLength="6.55" lengthAdjust="spacingAndGlyphs" text-anchor="end"  stroke="#000" stroke-width="0.12" style="font-family:'Liberation Serif', serif">0</text><text x="24.95" y="100.62" font-size="11.54" textLength="6.55" lengthAdjust="spacingAndGlyphs" text-anchor="end"  stroke="#000" stroke-width="0.12" style="font-family:'Liberation Serif', serif">2</text><text x="24.95" y="67.84" font-size="11.54" textLength="6.55" lengthAdjust="spacingAndGlyphs" text-anchor="end"  stroke="#000" stroke-width="0.12" style="font-family:'Liberation Serif', serif">4</text><text x="24.95" y="35.06" font-size="11.54" textLength="6.55" lengthAdjust="spacingAndGlyphs" text-anchor="end"  stroke="#000" stroke-width="0.12" style="font-family:'Liberation Serif', serif">6</text><text x="29.65" y="11.66" font-size="11.54" textLength="34.39" lengthAdjust="spacingAndGlyphs" text-anchor="start"  stroke="#000" stroke-width="0.12" style="font-family:'Liberation Serif', serif">1e−12</text><text x="95.48" y="174.00" font-size="11.65" textLength="69.28" lengthAdjust="spacingAndGlyphs" text-anchor="middle"  stroke="#000" stroke-width="0.12" style="font-family:'Liberation Serif', serif">orbital phase</text><g transform="translate(10.10,81.53) rotate(-90)"><text x="-74.72" y="0.00" font-size="11.65" textLength="131.37" lengthAdjust="spacingAndGlyphs" text-anchor="start"  stroke="#000" stroke-width="0.12" style="font-family:'Liberation Serif', serif">Flux 0.3-10 keV (erg/(cm</text><text x="56.64" y="-3.80" font-size="8.15" textLength="4.63" lengthAdjust="spacingAndGlyphs" text-anchor="start"  stroke="#000" stroke-width="0.12" style="font-family:'Liberation Serif', serif">2</text><text x="61.27" y="0.00" font-size="11.65" textLength="13.45" lengthAdjust="spacingAndGlyphs" text-anchor="start"  stroke="#000" stroke-width="0.12" style="font-family:'Liberation Serif', serif">s))</text></g><text x="42.45" y="28.41" font-size="9.46" textLength="34.38" lengthAdjust="spacingAndGlyphs" text-anchor="start"  stroke="#000" stroke-width="0.12" style="font-family:'Liberation Serif', serif">Orbit 4:</text><text x="42.45" y="38.41" font-size="9.46" textLength="50.32" lengthAdjust="spacingAndGlyphs" text-anchor="start"  stroke="#000" stroke-width="0.12" style="font-family:'Liberation Serif', serif">MJD 53905</text></g><g transform="translate(0.00,184.80)"><use href="#mdl"/><line x1="29.70" y1="129.50" x2="161.30" y2="129.50" stroke="#666" stroke-width="1.9" stroke-dasharray="1.75,3.395"/><g clip-path="url(#ac)"><circle cx="86.63" cy="120.90" r="3.3" fill="#2ca02c"/></g><rect x="116.69" y="18.66" width="41.86" height="11.34" rx="1.5" fill="#fff" fill-opacity="0.8" stroke="#ebebeb" stroke-width="0.9"/><circle cx="125.79" cy="24.20" r="3.25" fill="#2ca02c"/><text x="137.49" y="27.10" font-size="7.17" textLength="17.66" lengthAdjust="spacingAndGlyphs" text-anchor="start"  stroke="#000" stroke-width="0.06" style="font-family:'Liberation Serif', serif">XMM</text><rect x="29.45" y="15.56" width="131.85" height="130.34" fill="none" stroke="#000" stroke-width="1.22"/><path d="M62.46,145.90v-4.5M62.46,15.56v4.5M95.48,145.90v-4.5M95.48,15.56v4.5M128.49,145.90v-4.5M128.49,15.56v4.5M29.45,129.50h4.5M161.30,129.50h-4.5M29.45,96.72h4.5M161.30,96.72h-4.5M29.45,63.94h4.5M161.30,63.94h-4.5M29.45,31.16h4.5M161.30,31.16h-4.5" stroke="#000" stroke-width="1.1" fill="none"/><text x="29.45" y="158.80" font-size="11.54" textLength="23.62" lengthAdjust="spacingAndGlyphs" text-anchor="middle"  stroke="#000" stroke-width="0.12" style="font-family:'Liberation Serif', serif">0.00</text><text x="62.46" y="158.80" font-size="11.54" textLength="23.62" lengthAdjust="spacingAndGlyphs" text-anchor="middle"  stroke="#000" stroke-width="0.12" style="font-family:'Liberation Serif', serif">0.25</text><text x="95.48" y="158.80" font-size="11.54" textLength="23.62" lengthAdjust="spacingAndGlyphs" text-anchor="middle"  stroke="#000" stroke-width="0.12" style="font-family:'Liberation Serif', serif">0.50</text><text x="128.49" y="158.80" font-size="11.54" textLength="23.62" lengthAdjust="spacingAndGlyphs" text-anchor="middle"  stroke="#000" stroke-width="0.12" style="font-family:'Liberation Serif', serif">0.75</text><text x="161.50" y="158.80" font-size="11.54" textLength="23.62" lengthAdjust="spacingAndGlyphs" text-anchor="middle"  stroke="#000" stroke-width="0.12" style="font-family:'Liberation Serif', serif">1.00</text><text x="24.95" y="133.40" font-size="11.54" textLength="6.55" lengthAdjust="spacingAndGlyphs" text-anchor="end"  stroke="#000" stroke-width="0.12" style="font-family:'Liberation Serif', serif">0</text><text x="24.95" y="100.62" font-size="11.54" textLength="6.55" lengthAdjust="spacingAndGlyphs" text-anchor="end"  stroke="#000" stroke-width="0.12" style="font-family:'Liberation Serif', serif">2</text><text x="24.95" y="67.84" font-size="11.54" textLength="6.55" lengthAdjust="spacingAndGlyphs" text-anchor="end"  stroke="#000" stroke-width="0.12" style="font-family:'Liberation Serif', serif">4</text><text x="24.95" y="35.06" font-size="11.54" textLength="6.55" lengthAdjust="spacingAndGlyphs" text-anchor="end"  stroke="#000" stroke-width="0.12" style="font-family:'Liberation Serif', serif">6</text><text x="29.65" y="11.66" font-size="11.54" textLength="34.39" lengthAdjust="spacingAndGlyphs" text-anchor="start"  stroke="#000" stroke-width="0.12" style="font-family:'Liberation Serif', serif">1e−12</text><text x="95.48" y="174.00" font-size="11.65" textLength="69.28" lengthAdjust="spacingAndGlyphs" text-anchor="middle"  stroke="#000" stroke-width="0.12" style="font-family:'Liberation Serif', serif">orbital phase</text><g transform="translate(10.10,81.53) rotate(-90)"><text x="-74.72" y="0.00" font-size="11.65" textLength="131.37" lengthAdjust="spacingAndGlyphs" text-anchor="start"  stroke="#000" stroke-width="0.12" style="font-family:'Liberation Serif', serif">Flux 0.3-10 keV (erg/(cm</text><text x="56.64" y="-3.80" font-size="8.15" textLength="4.63" lengthAdjust="spacingAndGlyphs" text-anchor="start"  stroke="#000" stroke-width="0.12" style="font-family:'Liberation Serif', serif">2</text><text x="61.27" y="0.00" font-size="11.65" textLength="13.45" lengthAdjust="spacingAndGlyphs" text-anchor="start"  stroke="#000" stroke-width="0.12" style="font-family:'Liberation Serif', serif">s))</text></g><text x="42.45" y="28.41" font-size="9.46" textLength="34.38" lengthAdjust="spacingAndGlyphs" text-anchor="start"  stroke="#000" stroke-width="0.12" style="font-family:'Liberation Serif', serif">Orbit 5:</text><text x="42.45" y="38.41" font-size="9.46" textLength="50.32" lengthAdjust="spacingAndGlyphs" text-anchor="start"  stroke="#000" stroke-width="0.12" style="font-family:'Liberation Serif', serif">MJD 54222</text></g><g transform="translate(184.35,184.80)"><use href="#mdl"/><line x1="29.70" y1="129.50" x2="161.30" y2="129.50" stroke="#666" stroke-width="1.9" stroke-dasharray="1.75,3.395"/><g clip-path="url(#ac)"><circle cx="45.69" cy="101.06" r="3.3" fill="#9467bd"/></g><rect x="110.66" y="18.66" width="47.89" height="11.34" rx="1.5" fill="#fff" fill-opacity="0.8" stroke="#ebebeb" stroke-width="0.9"/><circle cx="119.76" cy="24.20" r="3.25" fill="#9467bd"/><text x="131.46" y="27.10" font-size="7.17" textLength="23.69" lengthAdjust="spacingAndGlyphs" text-anchor="start"  stroke="#000" stroke-width="0.06" style="font-family:'Liberation Serif', serif">Suzaku</text><rect x="29.45" y="15.56" width="131.85" height="130.34" fill="none" stroke="#000" stroke-width="1.22"/><path d="M62.46,145.90v-4.5M62.46,15.56v4.5M95.48,145.90v-4.5M95.48,15.56v4.5M128.49,145.90v-4.5M128.49,15.56v4.5M29.45,129.50h4.5M161.30,129.50h-4.5M29.45,96.72h4.5M161.30,96.72h-4.5M29.45,63.94h4.5M161.30,63.94h-4.5M29.45,31.16h4.5M161.30,31.16h-4.5" stroke="#000" stroke-width="1.1" fill="none"/><text x="29.45" y="158.80" font-size="11.54" textLength="23.62" lengthAdjust="spacingAndGlyphs" text-anchor="middle"  stroke="#000" stroke-width="0.12" style="font-family:'Liberation Serif', serif">0.00</text><text x="62.46" y="158.80" font-size="11.54" textLength="23.62" lengthAdjust="spacingAndGlyphs" text-anchor="middle"  stroke="#000" stroke-width="0.12" style="font-family:'Liberation Serif', serif">0.25</text><text x="95.48" y="158.80" font-size="11.54" textLength="23.62" lengthAdjust="spacingAndGlyphs" text-anchor="middle"  stroke="#000" stroke-width="0.12" style="font-family:'Liberation Serif', serif">0.50</text><text x="128.49" y="158.80" font-size="11.54" textLength="23.62" lengthAdjust="spacingAndGlyphs" text-anchor="middle"  stroke="#000" stroke-width="0.12" style="font-family:'Liberation Serif', serif">0.75</text><text x="161.50" y="158.80" font-size="11.54" textLength="23.62" lengthAdjust="spacingAndGlyphs" text-anchor="middle"  stroke="#000" stroke-width="0.12" style="font-family:'Liberation Serif', serif">1.00</text><text x="24.95" y="133.40" font-size="11.54" textLength="6.55" lengthAdjust="spacingAndGlyphs" text-anchor="end"  stroke="#000" stroke-width="0.12" style="font-family:'Liberation Serif', serif">0</text><text x="24.95" y="100.62" font-size="11.54" textLength="6.55" lengthAdjust="spacingAndGlyphs" text-anchor="end"  stroke="#000" stroke-width="0.12" style="font-family:'Liberation Serif', serif">2</text><text x="24.95" y="67.84" font-size="11.54" textLength="6.55" lengthAdjust="spacingAndGlyphs" text-anchor="end"  stroke="#000" stroke-width="0.12" style="font-family:'Liberation Serif', serif">4</text><text x="24.95" y="35.06" font-size="11.54" textLength="6.55" lengthAdjust="spacingAndGlyphs" text-anchor="end"  stroke="#000" stroke-width="0.12" style="font-family:'Liberation Serif', serif">6</text><text x="29.65" y="11.66" font-size="11.54" textLength="34.39" lengthAdjust="spacingAndGlyphs" text-anchor="start"  stroke="#000" stroke-width="0.12" style="font-family:'Liberation Serif', serif">1e−12</text><text x="95.48" y="174.00" font-size="11.65" textLength="69.28" lengthAdjust="spacingAndGlyphs" text-anchor="middle"  stroke="#000" stroke-width="0.12" style="font-family:'Liberation Serif', serif">orbital phase</text><g transform="translate(10.10,81.53) rotate(-90)"><text x="-74.72" y="0.00" font-size="11.65" textLength="131.37" lengthAdjust="spacingAndGlyphs" text-anchor="start"  stroke="#000" stroke-width="0.12" style="font-family:'Liberation Serif', serif">Flux 0.3-10 keV (erg/(cm</text><text x="56.64" y="-3.80" font-size="8.15" textLength="4.63" lengthAdjust="spacingAndGlyphs" text-anchor="start"  stroke="#000" stroke-width="0.12" style="font-family:'Liberation Serif', serif">2</text><text x="61.27" y="0.00" font-size="11.65" textLength="13.45" lengthAdjust="spacingAndGlyphs" text-anchor="start"  stroke="#000" stroke-width="0.12" style="font-family:'Liberation Serif', serif">s))</text></g><text x="42.45" y="28.41" font-size="9.46" textLength="34.38" lengthAdjust="spacingAndGlyphs" text-anchor="start"  stroke="#000" stroke-width="0.12" style="font-family:'Liberation Serif', serif">Orbit 6:</text><text x="42.45" y="38.41" font-size="9.46" textLength="50.32" lengthAdjust="spacingAndGlyphs" text-anchor="start"  stroke="#000" stroke-width="0.12" style="font-family:'Liberation Serif', serif">MJD 54539</text></g><g transform="translate(368.50,184.80)"><use href="#mdl"/><line x1="29.70" y1="129.50" x2="161.30" y2="129.50" stroke="#666" stroke-width="1.9" stroke-dasharray="1.75,3.395"/><g clip-path="url(#ac)"><line x1="29.98" y1="104.10" x2="29.98" y2="83.77" stroke="#1f77b4" stroke-width="0.95"/><line x1="30.51" y1="115.90" x2="30.51" y2="111.96" stroke="#1f77b4" stroke-width="0.95"/><line x1="33.15" y1="119.17" x2="33.15" y2="115.24" stroke="#1f77b4" stroke-width="0.95"/><line x1="36.45" y1="117.86" x2="36.45" y2="113.93" stroke="#1f77b4" stroke-width="0.95"/><line x1="48.86" y1="111.80" x2="48.86" y2="106.88" stroke="#1f77b4" stroke-width="0.95"/><line x1="50.31" y1="118.68" x2="50.31" y2="114.75" stroke="#1f77b4" stroke-width="0.95"/><line x1="52.03" y1="105.90" x2="52.03" y2="95.08" stroke="#1f77b4" stroke-width="0.95"/><line x1="55.07" y1="106.55" x2="55.07" y2="98.36" stroke="#1f77b4" stroke-width="0.95"/><line x1="56.52" y1="110.98" x2="56.52" y2="103.60" stroke="#1f77b4" stroke-width="0.95"/><line x1="57.84" y1="90.98" x2="57.84" y2="78.53" stroke="#1f77b4" stroke-width="0.95"/><line x1="59.16" y1="116.39" x2="59.16" y2="95.74" stroke="#1f77b4" stroke-width="0.95"/><line x1="61.27" y1="98.36" x2="61.27" y2="90.16" stroke="#1f77b4" stroke-width="0.95"/><line x1="65.76" y1="110.82" x2="65.76" y2="104.59" stroke="#1f77b4" stroke-width="0.95"/><line x1="67.88" y1="102.29" x2="67.88" y2="98.36" stroke="#1f77b4" stroke-width="0.95"/><line x1="69.46" y1="90.82" x2="69.46" y2="84.26" stroke="#1f77b4" stroke-width="0.95"/><line x1="70.65" y1="82.95" x2="70.65" y2="76.40" stroke="#1f77b4" stroke-width="0.95"/><line x1="73.55" y1="79.02" x2="73.55" y2="72.46" stroke="#1f77b4" stroke-width="0.95"/><line x1="74.61" y1="86.72" x2="74.61" y2="80.17" stroke="#1f77b4" stroke-width="0.95"/><line x1="74.61" y1="72.95" x2="74.61" y2="64.43" stroke="#1f77b4" stroke-width="0.95"/><line x1="113.57" y1="115.73" x2="113.57" y2="111.80" stroke="#1f77b4" stroke-width="0.95"/><line x1="116.60" y1="105.90" x2="116.60" y2="94.59" stroke="#1f77b4" stroke-width="0.95"/><line x1="119.64" y1="116.06" x2="119.64" y2="109.50" stroke="#1f77b4" stroke-width="0.95"/><line x1="122.28" y1="109.34" x2="122.28" y2="105.41" stroke="#1f77b4" stroke-width="0.95"/><line x1="125.71" y1="115.73" x2="125.71" y2="111.80" stroke="#1f77b4" stroke-width="0.95"/><line x1="128.36" y1="96.39" x2="128.36" y2="84.59" stroke="#1f77b4" stroke-width="0.95"/><line x1="134.03" y1="107.54" x2="134.03" y2="103.60" stroke="#1f77b4" stroke-width="0.95"/><line x1="136.67" y1="104.10" x2="136.67" y2="100.16" stroke="#1f77b4" stroke-width="0.95"/><line x1="141.30" y1="101.96" x2="141.30" y2="76.56" stroke="#1f77b4" stroke-width="0.95"/><line x1="144.33" y1="108.36" x2="144.33" y2="101.80" stroke="#1f77b4" stroke-width="0.95"/><line x1="140.11" y1="113.11" x2="140.11" y2="109.18" stroke="#1f77b4" stroke-width="0.95"/><line x1="141.30" y1="117.70" x2="141.30" y2="113.77" stroke="#1f77b4" stroke-width="0.95"/><line x1="144.73" y1="113.11" x2="144.73" y2="109.18" stroke="#1f77b4" stroke-width="0.95"/><line x1="149.22" y1="114.59" x2="149.22" y2="110.65" stroke="#1f77b4" stroke-width="0.95"/><line x1="153.84" y1="114.59" x2="153.84" y2="110.65" stroke="#1f77b4" stroke-width="0.95"/><line x1="157.54" y1="110.82" x2="157.54" y2="106.88" stroke="#1f77b4" stroke-width="0.95"/><line x1="160.58" y1="114.59" x2="160.58" y2="110.65" stroke="#1f77b4" stroke-width="0.95"/><circle cx="29.98" cy="93.93" r="3.3" fill="#1f77b4"/><circle cx="30.51" cy="113.93" r="3.3" fill="#1f77b4"/><circle cx="33.15" cy="117.21" r="3.3" fill="#1f77b4"/><circle cx="36.45" cy="115.90" r="3.3" fill="#1f77b4"/><circle cx="48.86" cy="109.34" r="3.3" fill="#1f77b4"/><circle cx="50.31" cy="116.72" r="3.3" fill="#1f77b4"/><circle cx="52.03" cy="102.62" r="3.3" fill="#1f77b4"/><circle cx="55.07" cy="103.28" r="3.3" fill="#1f77b4"/><circle cx="56.52" cy="106.88" r="3.3" fill="#1f77b4"/><circle cx="57.84" cy="85.74" r="3.3" fill="#1f77b4"/><circle cx="59.16" cy="100.65" r="3.3" fill="#1f77b4"/><circle cx="61.27" cy="95.08" r="3.3" fill="#1f77b4"/><circle cx="65.76" cy="106.23" r="3.3" fill="#1f77b4"/><circle cx="67.88" cy="100.33" r="3.3" fill="#1f77b4"/><circle cx="69.46" cy="87.54" r="3.3" fill="#1f77b4"/><circle cx="70.65" cy="79.67" r="3.3" fill="#1f77b4"/><circle cx="73.55" cy="75.74" r="3.3" fill="#1f77b4"/><circle cx="74.61" cy="83.44" r="3.3" fill="#1f77b4"/><circle cx="74.61" cy="69.68" r="3.3" fill="#1f77b4"/><circle cx="113.57" cy="113.77" r="3.3" fill="#1f77b4"/><circle cx="116.60" cy="100.16" r="3.3" fill="#1f77b4"/><circle cx="119.64" cy="111.14" r="3.3" fill="#1f77b4"/><circle cx="122.28" cy="107.37" r="3.3" fill="#1f77b4"/><circle cx="125.71" cy="113.77" r="3.3" fill="#1f77b4"/><circle cx="128.36" cy="90.33" r="3.3" fill="#1f77b4"/><circle cx="134.03" cy="105.57" r="3.3" fill="#1f77b4"/><circle cx="136.67" cy="102.13" r="3.3" fill="#1f77b4"/><circle cx="141.30" cy="97.05" r="3.3" fill="#1f77b4"/><circle cx="144.33" cy="105.08" r="3.3" fill="#1f77b4"/><circle cx="140.11" cy="111.14" r="3.3" fill="#1f77b4"/><circle cx="141.30" cy="115.73" r="3.3" fill="#1f77b4"/><circle cx="144.73" cy="111.14" r="3.3" fill="#1f77b4"/><circle cx="149.22" cy="112.62" r="3.3" fill="#1f77b4"/><circle cx="153.84" cy="112.62" r="3.3" fill="#1f77b4"/><circle cx="157.54" cy="108.85" r="3.3" fill="#1f77b4"/><circle cx="160.58" cy="112.62" r="3.3" fill="#1f77b4"/><circle cx="64.44" cy="102.78" r="3.3" fill="#9467bd"/></g><rect x="102.54" y="18.66" width="56.01" height="20.99" rx="1.5" fill="#fff" fill-opacity="0.8" stroke="#ebebeb" stroke-width="0.9"/><circle cx="111.64" cy="24.20" r="3.25" fill="#1f77b4"/><text x="123.34" y="26.90" font-size="7.00" textLength="16.31" lengthAdjust="spacingAndGlyphs" text-anchor="start" font-style="italic" stroke="#000" stroke-width="0.04" style="font-family:'Liberation Sans', sans-serif">Swift</text><text x="139.65" y="26.90" font-size="7.00" textLength="15.50" lengthAdjust="spacingAndGlyphs" text-anchor="start"  stroke="#000" stroke-width="0.04" style="font-family:'Liberation Sans', sans-serif">-XRT</text><circle cx="111.64" cy="33.85" r="3.25" fill="#9467bd"/><text x="123.34" y="36.75" font-size="7.17" textLength="23.69" lengthAdjust="spacingAndGlyphs" text-anchor="start"  stroke="#000" stroke-width="0.06" style="font-family:'Liberation Serif', serif">Suzaku</text><rect x="29.45" y="15.56" width="131.85" height="130.34" fill="none" stroke="#000" stroke-width="1.22"/><path d="M62.46,145.90v-4.5M62.46,15.56v4.5M95.48,145.90v-4.5M95.48,15.56v4.5M128.49,145.90v-4.5M128.49,15.56v4.5M29.45,129.50h4.5M161.30,129.50h-4.5M29.45,96.72h4.5M161.30,96.72h-4.5M29.45,63.94h4.5M161.30,63.94h-4.5M29.45,31.16h4.5M161.30,31.16h-4.5" stroke="#000" stroke-width="1.1" fill="none"/><text x="29.45" y="158.80" font-size="11.54" textLength="23.62" lengthAdjust="spacingAndGlyphs" text-anchor="middle"  stroke="#000" stroke-width="0.12" style="font-family:'Liberation Serif', serif">0.00</text><text x="62.46" y="158.80" font-size="11.54" textLength="23.62" lengthAdjust="spacingAndGlyphs" text-anchor="middle"  stroke="#000" stroke-width="0.12" style="font-family:'Liberation Serif', serif">0.25</text><text x="95.48" y="158.80" font-size="11.54" textLength="23.62" lengthAdjust="spacingAndGlyphs" text-anchor="middle"  stroke="#000" stroke-width="0.12" style="font-family:'Liberation Serif', serif">0.50</text><text x="128.49" y="158.80" font-size="11.54" textLength="23.62" lengthAdjust="spacingAndGlyphs" text-anchor="middle"  stroke="#000" stroke-width="0.12" style="font-family:'Liberation Serif', serif">0.75</text><text x="161.50" y="158.80" font-size="11.54" textLength="23.62" lengthAdjust="spacingAndGlyphs" text-anchor="middle"  stroke="#000" stroke-width="0.12" style="font-family:'Liberation Serif', serif">1.00</text><text x="24.95" y="133.40" font-size="11.54" textLength="6.55" lengthAdjust="spacingAndGlyphs" text-anchor="end"  stroke="#000" stroke-width="0.12" style="font-family:'Liberation Serif', serif">0</text><text x="24.95" y="100.62" font-size="11.54" textLength="6.55" lengthAdjust="spacingAndGlyphs" text-anchor="end"  stroke="#000" stroke-width="0.12" style="font-family:'Liberation Serif', serif">2</text><text x="24.95" y="67.84" font-size="11.54" textLength="6.55" lengthAdjust="spacingAndGlyphs" text-anchor="end"  stroke="#000" stroke-width="0.12" style="font-family:'Liberation Serif', serif">4</text><text x="24.95" y="35.06" font-size="11.54" textLength="6.55" lengthAdjust="spacingAndGlyphs" text-anchor="end"  stroke="#000" stroke-width="0.12" style="font-family:'Liberation Serif', serif">6</text><text x="29.65" y="11.66" font-size="11.54" textLength="34.39" lengthAdjust="spacingAndGlyphs" text-anchor="start"  stroke="#000" stroke-width="0.12" style="font-family:'Liberation Serif', serif">1e−12</text><text x="95.48" y="174.00" font-size="11.65" textLength="69.28" lengthAdjust="spacingAndGlyphs" text-anchor="middle"  stroke="#000" stroke-width="0.12" style="font-family:'Liberation Serif', serif">orbital phase</text><g transform="translate(10.10,81.53) rotate(-90)"><text x="-74.72" y="0.00" font-size="11.65" textLength="131.37" lengthAdjust="spacingAndGlyphs" text-anchor="start"  stroke="#000" stroke-width="0.12" style="font-family:'Liberation Serif', serif">Flux 0.3-10 keV (erg/(cm</text><text x="56.64" y="-3.80" font-size="8.15" textLength="4.63" lengthAdjust="spacingAndGlyphs" text-anchor="start"  stroke="#000" stroke-width="0.12" style="font-family:'Liberation Serif', serif">2</text><text x="61.27" y="0.00" font-size="11.65" textLength="13.45" lengthAdjust="spacingAndGlyphs" text-anchor="start"  stroke="#000" stroke-width="0.12" style="font-family:'Liberation Serif', serif">s))</text></g><text x="42.45" y="28.41" font-size="9.46" textLength="34.38" lengthAdjust="spacingAndGlyphs" text-anchor="start"  stroke="#000" stroke-width="0.12" style="font-family:'Liberation Serif', serif">Orbit 7:</text><text x="42.45" y="38.41" font-size="9.46" textLength="50.32" lengthAdjust="spacingAndGlyphs" text-anchor="start"  stroke="#000" stroke-width="0.12" style="font-family:'Liberation Serif', serif">MJD 54857</text></g><g transform="translate(552.70,184.80)"><use href="#mdl"/><line x1="29.70" y1="129.50" x2="161.30" y2="129.50" stroke="#666" stroke-width="1.9" stroke-dasharray="1.75,3.395"/><g clip-path="url(#ac)"><line x1="31.03" y1="118.52" x2="31.03" y2="114.59" stroke="#1f77b4" stroke-width="0.95"/><line x1="33.94" y1="117.21" x2="33.94" y2="113.27" stroke="#1f77b4" stroke-width="0.95"/><line x1="36.84" y1="112.62" x2="36.84" y2="108.68" stroke="#1f77b4" stroke-width="0.95"/><line x1="39.75" y1="111.80" x2="39.75" y2="107.87" stroke="#1f77b4" stroke-width="0.95"/><line x1="42.66" y1="115.57" x2="42.66" y2="111.63" stroke="#1f77b4" stroke-width="0.95"/><line x1="46.35" y1="109.01" x2="46.35" y2="105.08" stroke="#1f77b4" stroke-width="0.95"/><line x1="49.26" y1="101.47" x2="49.26" y2="97.54" stroke="#1f77b4" stroke-width="0.95"/><line x1="51.24" y1="94.10" x2="51.24" y2="80.82" stroke="#1f77b4" stroke-width="0.95"/><line x1="55.86" y1="123.44" x2="55.86" y2="109.01" stroke="#1f77b4" stroke-width="0.95"/><line x1="56.26" y1="107.21" x2="56.26" y2="103.28" stroke="#1f77b4" stroke-width="0.95"/><line x1="57.97" y1="106.55" x2="57.97" y2="98.36" stroke="#1f77b4" stroke-width="0.95"/><line x1="60.35" y1="108.52" x2="60.35" y2="104.59" stroke="#1f77b4" stroke-width="0.95"/><line x1="63.25" y1="109.83" x2="63.25" y2="105.90" stroke="#1f77b4" stroke-width="0.95"/><line x1="66.16" y1="103.11" x2="66.16" y2="99.18" stroke="#1f77b4" stroke-width="0.95"/><line x1="69.46" y1="101.15" x2="69.46" y2="97.21" stroke="#1f77b4" stroke-width="0.95"/><line x1="71.97" y1="82.79" x2="71.97" y2="78.85" stroke="#1f77b4" stroke-width="0.95"/><line x1="74.88" y1="76.23" x2="74.88" y2="67.22" stroke="#1f77b4" stroke-width="0.95"/><line x1="78.44" y1="103.93" x2="78.44" y2="100.00" stroke="#1f77b4" stroke-width="0.95"/><line x1="81.21" y1="110.49" x2="81.21" y2="106.55" stroke="#1f77b4" stroke-width="0.95"/><line x1="84.25" y1="113.44" x2="84.25" y2="103.60" stroke="#1f77b4" stroke-width="0.95"/><line x1="85.97" y1="119.83" x2="85.97" y2="115.90" stroke="#1f77b4" stroke-width="0.95"/><line x1="89.40" y1="117.70" x2="89.40" y2="113.77" stroke="#1f77b4" stroke-width="0.95"/><line x1="92.04" y1="114.26" x2="92.04" y2="105.73" stroke="#1f77b4" stroke-width="0.95"/><line x1="135.88" y1="91.80" x2="135.88" y2="81.97" stroke="#1f77b4" stroke-width="0.95"/><line x1="139.32" y1="103.28" x2="139.32" y2="91.48" stroke="#1f77b4" stroke-width="0.95"/><line x1="141.43" y1="110.00" x2="141.43" y2="106.06" stroke="#1f77b4" stroke-width="0.95"/><line x1="144.20" y1="112.95" x2="144.20" y2="109.01" stroke="#1f77b4" stroke-width="0.95"/><line x1="147.63" y1="116.22" x2="147.63" y2="112.29" stroke="#1f77b4" stroke-width="0.95"/><line x1="150.41" y1="111.47" x2="150.41" y2="107.54" stroke="#1f77b4" stroke-width="0.95"/><line x1="153.44" y1="108.36" x2="153.44" y2="99.34" stroke="#1f77b4" stroke-width="0.95"/><line x1="156.35" y1="119.99" x2="156.35" y2="116.06" stroke="#1f77b4" stroke-width="0.95"/><line x1="159.39" y1="113.60" x2="159.39" y2="109.67" stroke="#1f77b4" stroke-width="0.95"/><circle cx="31.03" cy="116.55" r="3.3" fill="#1f77b4"/><circle cx="33.94" cy="115.24" r="3.3" fill="#1f77b4"/><circle cx="36.84" cy="110.65" r="3.3" fill="#1f77b4"/><circle cx="39.75" cy="109.83" r="3.3" fill="#1f77b4"/><circle cx="42.66" cy="113.60" r="3.3" fill="#1f77b4"/><circle cx="46.35" cy="107.05" r="3.3" fill="#1f77b4"/><circle cx="49.26" cy="99.51" r="3.3" fill="#1f77b4"/><circle cx="51.24" cy="87.54" r="3.3" fill="#1f77b4"/><circle cx="55.86" cy="112.29" r="3.3" fill="#1f77b4"/><circle cx="56.26" cy="105.24" r="3.3" fill="#1f77b4"/><circle cx="57.97" cy="103.28" r="3.3" fill="#1f77b4"/><circle cx="60.35" cy="106.55" r="3.3" fill="#1f77b4"/><circle cx="63.25" cy="107.87" r="3.3" fill="#1f77b4"/><circle cx="66.16" cy="101.15" r="3.3" fill="#1f77b4"/><circle cx="69.46" cy="99.18" r="3.3" fill="#1f77b4"/><circle cx="71.97" cy="80.82" r="3.3" fill="#1f77b4"/><circle cx="74.88" cy="72.95" r="3.3" fill="#1f77b4"/><circle cx="78.44" cy="101.96" r="3.3" fill="#1f77b4"/><circle cx="81.21" cy="108.52" r="3.3" fill="#1f77b4"/><circle cx="84.25" cy="108.52" r="3.3" fill="#1f77b4"/><circle cx="85.97" cy="117.86" r="3.3" fill="#1f77b4"/><circle cx="89.40" cy="115.73" r="3.3" fill="#1f77b4"/><circle cx="92.04" cy="110.98" r="3.3" fill="#1f77b4"/><circle cx="135.88" cy="86.89" r="3.3" fill="#1f77b4"/><circle cx="139.32" cy="97.38" r="3.3" fill="#1f77b4"/><circle cx="141.43" cy="108.03" r="3.3" fill="#1f77b4"/><circle cx="144.20" cy="110.98" r="3.3" fill="#1f77b4"/><circle cx="147.63" cy="114.26" r="3.3" fill="#1f77b4"/><circle cx="150.41" cy="109.50" r="3.3" fill="#1f77b4"/><circle cx="153.44" cy="105.08" r="3.3" fill="#1f77b4"/><circle cx="156.35" cy="118.03" r="3.3" fill="#1f77b4"/><circle cx="159.39" cy="111.63" r="3.3" fill="#1f77b4"/></g><rect x="102.54" y="18.66" width="56.01" height="11.34" rx="1.5" fill="#fff" fill-opacity="0.8" stroke="#ebebeb" stroke-width="0.9"/><circle cx="111.64" cy="24.20" r="3.25" fill="#1f77b4"/><text x="123.34" y="26.90" font-size="7.00" textLength="16.31" lengthAdjust="spacingAndGlyphs" text-anchor="start" font-style="italic" stroke="#000" stroke-width="0.04" style="font-family:'Liberation Sans', sans-serif">Swift</text><text x="139.65" y="26.90" font-size="7.00" textLength="15.50" lengthAdjust="spacingAndGlyphs" text-anchor="start"  stroke="#000" stroke-width="0.04" style="font-family:'Liberation Sans', sans-serif">-XRT</text><rect x="29.45" y="15.56" width="131.85" height="130.34" fill="none" stroke="#000" stroke-width="1.22"/><path d="M62.46,145.90v-4.5M62.46,15.56v4.5M95.48,145.90v-4.5M95.48,15.56v4.5M128.49,145.90v-4.5M128.49,15.56v4.5M29.45,129.50h4.5M161.30,129.50h-4.5M29.45,96.72h4.5M161.30,96.72h-4.5M29.45,63.94h4.5M161.30,63.94h-4.5M29.45,31.16h4.5M161.30,31.16h-4.5" stroke="#000" stroke-width="1.1" fill="none"/><text x="29.45" y="158.80" font-size="11.54" textLength="23.62" lengthAdjust="spacingAndGlyphs" text-anchor="middle"  stroke="#000" stroke-width="0.12" style="font-family:'Liberation Serif', serif">0.00</text><text x="62.46" y="158.80" font-size="11.54" textLength="23.62" lengthAdjust="spacingAndGlyphs" text-anchor="middle"  stroke="#000" stroke-width="0.12" style="font-family:'Liberation Serif', serif">0.25</text><text x="95.48" y="158.80" font-size="11.54" textLength="23.62" lengthAdjust="spacingAndGlyphs" text-anchor="middle"  stroke="#000" stroke-width="0.12" style="font-family:'Liberation Serif', serif">0.50</text><text x="128.49" y="158.80" font-size="11.54" textLength="23.62" lengthAdjust="spacingAndGlyphs" text-anchor="middle"  stroke="#000" stroke-width="0.12" style="font-family:'Liberation Serif', serif">0.75</text><text x="161.50" y="158.80" font-size="11.54" textLength="23.62" lengthAdjust="spacingAndGlyphs" text-anchor="middle"  stroke="#000" stroke-width="0.12" style="font-family:'Liberation Serif', serif">1.00</text><text x="24.95" y="133.40" font-size="11.54" textLength="6.55" lengthAdjust="spacingAndGlyphs" text-anchor="end"  stroke="#000" stroke-width="0.12" style="font-family:'Liberation Serif', serif">0</text><text x="24.95" y="100.62" font-size="11.54" textLength="6.55" lengthAdjust="spacingAndGlyphs" text-anchor="end"  stroke="#000" stroke-width="0.12" style="font-family:'Liberation Serif', serif">2</text><text x="24.95" y="67.84" font-size="11.54" textLength="6.55" lengthAdjust="spacingAndGlyphs" text-anchor="end"  stroke="#000" stroke-width="0.12" style="font-family:'Liberation Serif', serif">4</text><text x="24.95" y="35.06" font-size="11.54" textLength="6.55" lengthAdjust="spacingAndGlyphs" text-anchor="end"  stroke="#000" stroke-width="0.12" style="font-family:'Liberation Serif', serif">6</text><text x="29.65" y="11.66" font-size="11.54" textLength="34.39" lengthAdjust="spacingAndGlyphs" text-anchor="start"  stroke="#000" stroke-width="0.12" style="font-family:'Liberation Serif', serif">1e−12</text><text x="95.48" y="174.00" font-size="11.65" textLength="69.28" lengthAdjust="spacingAndGlyphs" text-anchor="middle"  stroke="#000" stroke-width="0.12" style="font-family:'Liberation Serif', serif">orbital phase</text><g transform="translate(10.10,81.53) rotate(-90)"><text x="-74.72" y="0.00" font-size="11.65" textLength="131.37" lengthAdjust="spacingAndGlyphs" text-anchor="start"  stroke="#000" stroke-width="0.12" style="font-family:'Liberation Serif', serif">Flux 0.3-10 keV (erg/(cm</text><text x="56.64" y="-3.80" font-size="8.15" textLength="4.63" lengthAdjust="spacingAndGlyphs" text-anchor="start"  stroke="#000" stroke-width="0.12" style="font-family:'Liberation Serif', serif">2</text><text x="61.27" y="0.00" font-size="11.65" textLength="13.45" lengthAdjust="spacingAndGlyphs" text-anchor="start"  stroke="#000" stroke-width="0.12" style="font-family:'Liberation Serif', serif">s))</text></g><text x="42.45" y="28.41" font-size="9.46" textLength="34.38" lengthAdjust="spacingAndGlyphs" text-anchor="start"  stroke="#000" stroke-width="0.12" style="font-family:'Liberation Serif', serif">Orbit 8:</text><text x="42.45" y="38.41" font-size="9.46" textLength="50.32" lengthAdjust="spacingAndGlyphs" text-anchor="start"  stroke="#000" stroke-width="0.12" style="font-family:'Liberation Serif', serif">MJD 55174</text></g><g transform="translate(0.00,369.70)"><use href="#mdl"/><line x1="29.70" y1="129.50" x2="161.30" y2="129.50" stroke="#666" stroke-width="1.9" stroke-dasharray="1.75,3.395"/><g clip-path="url(#ac)"><line x1="30.11" y1="119.01" x2="30.11" y2="115.08" stroke="#1f77b4" stroke-width="0.95"/><line x1="32.09" y1="118.35" x2="32.09" y2="114.42" stroke="#1f77b4" stroke-width="0.95"/><line x1="34.07" y1="117.54" x2="34.07" y2="113.60" stroke="#1f77b4" stroke-width="0.95"/><line x1="36.05" y1="116.39" x2="36.05" y2="112.45" stroke="#1f77b4" stroke-width="0.95"/><line x1="38.03" y1="114.75" x2="38.03" y2="110.82" stroke="#1f77b4" stroke-width="0.95"/><line x1="40.01" y1="113.11" x2="40.01" y2="109.18" stroke="#1f77b4" stroke-width="0.95"/><line x1="41.60" y1="111.80" x2="41.60" y2="107.87" stroke="#1f77b4" stroke-width="0.95"/><line x1="44.90" y1="105.24" x2="44.90" y2="101.31" stroke="#1f77b4" stroke-width="0.95"/><line x1="45.96" y1="104.42" x2="45.96" y2="100.49" stroke="#1f77b4" stroke-width="0.95"/><line x1="48.07" y1="105.24" x2="48.07" y2="97.05" stroke="#1f77b4" stroke-width="0.95"/><line x1="49.92" y1="106.06" x2="49.92" y2="102.13" stroke="#1f77b4" stroke-width="0.95"/><line x1="51.90" y1="108.19" x2="51.90" y2="104.26" stroke="#1f77b4" stroke-width="0.95"/><line x1="53.48" y1="112.29" x2="53.48" y2="104.91" stroke="#1f77b4" stroke-width="0.95"/><line x1="55.20" y1="108.52" x2="55.20" y2="104.59" stroke="#1f77b4" stroke-width="0.95"/><line x1="57.05" y1="106.88" x2="57.05" y2="102.95" stroke="#1f77b4" stroke-width="0.95"/><line x1="58.77" y1="103.28" x2="58.77" y2="99.34" stroke="#1f77b4" stroke-width="0.95"/><line x1="60.61" y1="101.15" x2="60.61" y2="97.21" stroke="#1f77b4" stroke-width="0.95"/><line x1="62.46" y1="102.46" x2="62.46" y2="94.26" stroke="#1f77b4" stroke-width="0.95"/><line x1="64.31" y1="103.93" x2="64.31" y2="100.00" stroke="#1f77b4" stroke-width="0.95"/><line x1="66.16" y1="103.93" x2="66.16" y2="100.00" stroke="#1f77b4" stroke-width="0.95"/><line x1="68.67" y1="104.42" x2="68.67" y2="100.49" stroke="#1f77b4" stroke-width="0.95"/><line x1="69.86" y1="88.03" x2="69.86" y2="84.10" stroke="#1f77b4" stroke-width="0.95"/><line x1="70.78" y1="90.98" x2="70.78" y2="87.05" stroke="#1f77b4" stroke-width="0.95"/><line x1="72.37" y1="80.66" x2="72.37" y2="76.72" stroke="#1f77b4" stroke-width="0.95"/><line x1="73.29" y1="75.25" x2="73.29" y2="71.32" stroke="#1f77b4" stroke-width="0.95"/><line x1="75.80" y1="61.15" x2="75.80" y2="42.47" stroke="#1f77b4" stroke-width="0.95"/><line x1="76.72" y1="68.37" x2="76.72" y2="64.43" stroke="#1f77b4" stroke-width="0.95"/><line x1="78.18" y1="90.66" x2="78.18" y2="79.51" stroke="#1f77b4" stroke-width="0.95"/><line x1="79.76" y1="103.77" x2="79.76" y2="99.83" stroke="#1f77b4" stroke-width="0.95"/><line x1="81.21" y1="115.08" x2="81.21" y2="111.14" stroke="#1f77b4" stroke-width="0.95"/><line x1="82.67" y1="109.34" x2="82.67" y2="105.41" stroke="#1f77b4" stroke-width="0.95"/><line x1="84.12" y1="116.55" x2="84.12" y2="112.62" stroke="#1f77b4" stroke-width="0.95"/><line x1="85.57" y1="124.91" x2="85.57" y2="120.98" stroke="#1f77b4" stroke-width="0.95"/><line x1="87.55" y1="127.37" x2="87.55" y2="123.44" stroke="#1f77b4" stroke-width="0.95"/><line x1="90.46" y1="122.94" x2="90.46" y2="119.01" stroke="#1f77b4" stroke-width="0.95"/><line x1="94.42" y1="113.11" x2="94.42" y2="99.18" stroke="#1f77b4" stroke-width="0.95"/><line x1="97.19" y1="120.98" x2="97.19" y2="117.04" stroke="#1f77b4" stroke-width="0.95"/><line x1="100.49" y1="113.77" x2="100.49" y2="109.83" stroke="#1f77b4" stroke-width="0.95"/><line x1="103.27" y1="110.49" x2="103.27" y2="106.55" stroke="#1f77b4" stroke-width="0.95"/><line x1="105.51" y1="107.87" x2="105.51" y2="99.67" stroke="#1f77b4" stroke-width="0.95"/><line x1="106.57" y1="114.91" x2="106.57" y2="110.98" stroke="#1f77b4" stroke-width="0.95"/><line x1="108.81" y1="106.06" x2="108.81" y2="102.13" stroke="#1f77b4" stroke-width="0.95"/><line x1="112.11" y1="101.15" x2="112.11" y2="97.21" stroke="#1f77b4" stroke-width="0.95"/><line x1="114.75" y1="96.23" x2="114.75" y2="88.03" stroke="#1f77b4" stroke-width="0.95"/><line x1="153.44" y1="116.88" x2="153.44" y2="112.95" stroke="#1f77b4" stroke-width="0.95"/><line x1="157.67" y1="113.93" x2="157.67" y2="105.73" stroke="#1f77b4" stroke-width="0.95"/><circle cx="30.11" cy="117.04" r="3.3" fill="#1f77b4"/><circle cx="32.09" cy="116.39" r="3.3" fill="#1f77b4"/><circle cx="34.07" cy="115.57" r="3.3" fill="#1f77b4"/><circle cx="36.05" cy="114.42" r="3.3" fill="#1f77b4"/><circle cx="38.03" cy="112.78" r="3.3" fill="#1f77b4"/><circle cx="40.01" cy="111.14" r="3.3" fill="#1f77b4"/><circle cx="41.60" cy="109.83" r="3.3" fill="#1f77b4"/><circle cx="44.90" cy="103.28" r="3.3" fill="#1f77b4"/><circle cx="45.96" cy="102.46" r="3.3" fill="#1f77b4"/><circle cx="48.07" cy="101.96" r="3.3" fill="#1f77b4"/><circle cx="49.92" cy="104.10" r="3.3" fill="#1f77b4"/><circle cx="51.90" cy="106.23" r="3.3" fill="#1f77b4"/><circle cx="53.48" cy="107.37" r="3.3" fill="#1f77b4"/><circle cx="55.20" cy="106.55" r="3.3" fill="#1f77b4"/><circle cx="57.05" cy="104.91" r="3.3" fill="#1f77b4"/><circle cx="58.77" cy="101.31" r="3.3" fill="#1f77b4"/><circle cx="60.61" cy="99.18" r="3.3" fill="#1f77b4"/><circle cx="62.46" cy="99.18" r="3.3" fill="#1f77b4"/><circle cx="64.31" cy="101.96" r="3.3" fill="#1f77b4"/><circle cx="66.16" cy="101.96" r="3.3" fill="#1f77b4"/><circle cx="68.67" cy="102.46" r="3.3" fill="#1f77b4"/><circle cx="69.86" cy="86.07" r="3.3" fill="#1f77b4"/><circle cx="70.78" cy="89.02" r="3.3" fill="#1f77b4"/><circle cx="72.37" cy="78.69" r="3.3" fill="#1f77b4"/><circle cx="73.29" cy="73.28" r="3.3" fill="#1f77b4"/><circle cx="75.80" cy="55.58" r="3.3" fill="#1f77b4"/><circle cx="76.72" cy="66.40" r="3.3" fill="#1f77b4"/><circle cx="78.18" cy="85.08" r="3.3" fill="#1f77b4"/><circle cx="79.76" cy="101.80" r="3.3" fill="#1f77b4"/><circle cx="81.21" cy="113.11" r="3.3" fill="#1f77b4"/><circle cx="82.67" cy="107.37" r="3.3" fill="#1f77b4"/><circle cx="84.12" cy="114.59" r="3.3" fill="#1f77b4"/><circle cx="85.57" cy="122.94" r="3.3" fill="#1f77b4"/><circle cx="87.55" cy="125.40" r="3.3" fill="#1f77b4"/><circle cx="90.46" cy="120.98" r="3.3" fill="#1f77b4"/><circle cx="94.42" cy="106.23" r="3.3" fill="#1f77b4"/><circle cx="97.19" cy="119.01" r="3.3" fill="#1f77b4"/><circle cx="100.49" cy="111.80" r="3.3" fill="#1f77b4"/><circle cx="103.27" cy="108.52" r="3.3" fill="#1f77b4"/><circle cx="105.51" cy="104.59" r="3.3" fill="#1f77b4"/><circle cx="106.57" cy="112.95" r="3.3" fill="#1f77b4"/><circle cx="108.81" cy="104.10" r="3.3" fill="#1f77b4"/><circle cx="112.11" cy="99.18" r="3.3" fill="#1f77b4"/><circle cx="114.75" cy="92.95" r="3.3" fill="#1f77b4"/><circle cx="153.44" cy="114.91" r="3.3" fill="#1f77b4"/><circle cx="157.67" cy="110.65" r="3.3" fill="#1f77b4"/><circle cx="76.72" cy="72.63" r="3.3" fill="#e377c2"/></g><rect x="102.54" y="18.66" width="56.01" height="20.99" rx="1.5" fill="#fff" fill-opacity="0.8" stroke="#ebebeb" stroke-width="0.9"/><circle cx="111.64" cy="24.20" r="3.25" fill="#1f77b4"/><text x="123.34" y="26.90" font-size="7.00" textLength="16.31" lengthAdjust="spacingAndGlyphs" text-anchor="start" font-style="italic" stroke="#000" stroke-width="0.04" style="font-family:'Liberation Sans', sans-serif">Swift</text><text x="139.65" y="26.90" font-size="7.00" textLength="15.50" lengthAdjust="spacingAndGlyphs" text-anchor="start"  stroke="#000" stroke-width="0.04" style="font-family:'Liberation Sans', sans-serif">-XRT</text><circle cx="111.64" cy="33.85" r="3.25" fill="#e377c2"/><text x="123.34" y="36.75" font-size="7.17" textLength="27.93" lengthAdjust="spacingAndGlyphs" text-anchor="start"  stroke="#000" stroke-width="0.06" style="font-family:'Liberation Serif', serif">Chandra</text><rect x="29.45" y="15.56" width="131.85" height="130.34" fill="none" stroke="#000" stroke-width="1.22"/><path d="M62.46,145.90v-4.5M62.46,15.56v4.5M95.48,145.90v-4.5M95.48,15.56v4.5M128.49,145.90v-4.5M128.49,15.56v4.5M29.45,129.50h4.5M161.30,129.50h-4.5M29.45,96.72h4.5M161.30,96.72h-4.5M29.45,63.94h4.5M161.30,63.94h-4.5M29.45,31.16h4.5M161.30,31.16h-4.5" stroke="#000" stroke-width="1.1" fill="none"/><text x="29.45" y="158.80" font-size="11.54" textLength="23.62" lengthAdjust="spacingAndGlyphs" text-anchor="middle"  stroke="#000" stroke-width="0.12" style="font-family:'Liberation Serif', serif">0.00</text><text x="62.46" y="158.80" font-size="11.54" textLength="23.62" lengthAdjust="spacingAndGlyphs" text-anchor="middle"  stroke="#000" stroke-width="0.12" style="font-family:'Liberation Serif', serif">0.25</text><text x="95.48" y="158.80" font-size="11.54" textLength="23.62" lengthAdjust="spacingAndGlyphs" text-anchor="middle"  stroke="#000" stroke-width="0.12" style="font-family:'Liberation Serif', serif">0.50</text><text x="128.49" y="158.80" font-size="11.54" textLength="23.62" lengthAdjust="spacingAndGlyphs" text-anchor="middle"  stroke="#000" stroke-width="0.12" style="font-family:'Liberation Serif', serif">0.75</text><text x="161.50" y="158.80" font-size="11.54" textLength="23.62" lengthAdjust="spacingAndGlyphs" text-anchor="middle"  stroke="#000" stroke-width="0.12" style="font-family:'Liberation Serif', serif">1.00</text><text x="24.95" y="133.40" font-size="11.54" textLength="6.55" lengthAdjust="spacingAndGlyphs" text-anchor="end"  stroke="#000" stroke-width="0.12" style="font-family:'Liberation Serif', serif">0</text><text x="24.95" y="100.62" font-size="11.54" textLength="6.55" lengthAdjust="spacingAndGlyphs" text-anchor="end"  stroke="#000" stroke-width="0.12" style="font-family:'Liberation Serif', serif">2</text><text x="24.95" y="67.84" font-size="11.54" textLength="6.55" lengthAdjust="spacingAndGlyphs" text-anchor="end"  stroke="#000" stroke-width="0.12" style="font-family:'Liberation Serif', serif">4</text><text x="24.95" y="35.06" font-size="11.54" textLength="6.55" lengthAdjust="spacingAndGlyphs" text-anchor="end"  stroke="#000" stroke-width="0.12" style="font-family:'Liberation Serif', serif">6</text><text x="29.65" y="11.66" font-size="11.54" textLength="34.39" lengthAdjust="spacingAndGlyphs" text-anchor="start"  stroke="#000" stroke-width="0.12" style="font-family:'Liberation Serif', serif">1e−12</text><text x="95.48" y="174.00" font-size="11.65" textLength="69.28" lengthAdjust="spacingAndGlyphs" text-anchor="middle"  stroke="#000" stroke-width="0.12" style="font-family:'Liberation Serif', serif">orbital phase</text><g transform="translate(10.10,81.53) rotate(-90)"><text x="-74.72" y="0.00" font-size="11.65" textLength="131.37" lengthAdjust="spacingAndGlyphs" text-anchor="start"  stroke="#000" stroke-width="0.12" style="font-family:'Liberation Serif', serif">Flux 0.3-10 keV (erg/(cm</text><text x="56.64" y="-3.80" font-size="8.15" textLength="4.63" lengthAdjust="spacingAndGlyphs" text-anchor="start"  stroke="#000" stroke-width="0.12" style="font-family:'Liberation Serif', serif">2</text><text x="61.27" y="0.00" font-size="11.65" textLength="13.45" lengthAdjust="spacingAndGlyphs" text-anchor="start"  stroke="#000" stroke-width="0.12" style="font-family:'Liberation Serif', serif">s))</text></g><text x="42.45" y="28.41" font-size="9.46" textLength="34.38" lengthAdjust="spacingAndGlyphs" text-anchor="start"  stroke="#000" stroke-width="0.12" style="font-family:'Liberation Serif', serif">Orbit 9:</text><text x="42.45" y="38.41" font-size="9.46" textLength="50.32" lengthAdjust="spacingAndGlyphs" text-anchor="start"  stroke="#000" stroke-width="0.12" style="font-family:'Liberation Serif', serif">MJD 55491</text></g><g transform="translate(184.35,369.70)"><use href="#mdl"/><line x1="29.70" y1="129.50" x2="161.30" y2="129.50" stroke="#666" stroke-width="1.9" stroke-dasharray="1.75,3.395"/><g clip-path="url(#ac)"><line x1="29.71" y1="113.44" x2="29.71" y2="109.50" stroke="#1f77b4" stroke-width="0.95"/><line x1="33.41" y1="113.44" x2="33.41" y2="109.50" stroke="#1f77b4" stroke-width="0.95"/><line x1="37.51" y1="118.35" x2="37.51" y2="114.42" stroke="#1f77b4" stroke-width="0.95"/><line x1="41.20" y1="115.24" x2="41.20" y2="111.31" stroke="#1f77b4" stroke-width="0.95"/><line x1="44.64" y1="110.65" x2="44.64" y2="106.72" stroke="#1f77b4" stroke-width="0.95"/><line x1="46.88" y1="107.05" x2="46.88" y2="103.11" stroke="#1f77b4" stroke-width="0.95"/><line x1="43.58" y1="95.08" x2="43.58" y2="70.66" stroke="#1f77b4" stroke-width="0.95"/><line x1="49.65" y1="98.36" x2="49.65" y2="86.89" stroke="#1f77b4" stroke-width="0.95"/><line x1="52.16" y1="104.10" x2="52.16" y2="100.16" stroke="#1f77b4" stroke-width="0.95"/><line x1="54.67" y1="107.70" x2="54.67" y2="103.77" stroke="#1f77b4" stroke-width="0.95"/><line x1="58.24" y1="110.65" x2="58.24" y2="106.72" stroke="#1f77b4" stroke-width="0.95"/><line x1="61.01" y1="106.23" x2="61.01" y2="102.29" stroke="#1f77b4" stroke-width="0.95"/><line x1="63.92" y1="100.98" x2="63.92" y2="97.05" stroke="#1f77b4" stroke-width="0.95"/><line x1="66.42" y1="98.69" x2="66.42" y2="94.75" stroke="#1f77b4" stroke-width="0.95"/><line x1="67.48" y1="90.16" x2="67.48" y2="77.05" stroke="#1f77b4" stroke-width="0.95"/><line x1="68.93" y1="80.66" x2="68.93" y2="61.32" stroke="#1f77b4" stroke-width="0.95"/><line x1="71.71" y1="97.05" x2="71.71" y2="93.11" stroke="#1f77b4" stroke-width="0.95"/><line x1="73.95" y1="96.56" x2="73.95" y2="92.62" stroke="#1f77b4" stroke-width="0.95"/><line x1="75.40" y1="100.00" x2="75.40" y2="96.06" stroke="#1f77b4" stroke-width="0.95"/><line x1="77.38" y1="103.44" x2="77.38" y2="99.51" stroke="#1f77b4" stroke-width="0.95"/><line x1="79.76" y1="106.88" x2="79.76" y2="96.23" stroke="#1f77b4" stroke-width="0.95"/><line x1="80.42" y1="125.57" x2="80.42" y2="121.63" stroke="#1f77b4" stroke-width="0.95"/><line x1="82.27" y1="121.31" x2="82.27" y2="117.37" stroke="#1f77b4" stroke-width="0.95"/><line x1="84.91" y1="118.68" x2="84.91" y2="114.75" stroke="#1f77b4" stroke-width="0.95"/><line x1="87.68" y1="118.03" x2="87.68" y2="114.09" stroke="#1f77b4" stroke-width="0.95"/><line x1="89.66" y1="122.12" x2="89.66" y2="118.19" stroke="#1f77b4" stroke-width="0.95"/><line x1="91.78" y1="118.68" x2="91.78" y2="114.75" stroke="#1f77b4" stroke-width="0.95"/><line x1="94.55" y1="119.99" x2="94.55" y2="116.06" stroke="#1f77b4" stroke-width="0.95"/><line x1="95.87" y1="116.55" x2="95.87" y2="112.62" stroke="#1f77b4" stroke-width="0.95"/><line x1="97.32" y1="110.65" x2="97.32" y2="100.82" stroke="#1f77b4" stroke-width="0.95"/><line x1="101.55" y1="112.45" x2="101.55" y2="102.95" stroke="#1f77b4" stroke-width="0.95"/><line x1="107.36" y1="109.34" x2="107.36" y2="105.41" stroke="#1f77b4" stroke-width="0.95"/><line x1="109.87" y1="101.31" x2="109.87" y2="97.38" stroke="#1f77b4" stroke-width="0.95"/><line x1="105.64" y1="92.79" x2="105.64" y2="73.28" stroke="#1f77b4" stroke-width="0.95"/><line x1="113.70" y1="91.80" x2="113.70" y2="78.69" stroke="#1f77b4" stroke-width="0.95"/><line x1="118.19" y1="95.08" x2="118.19" y2="83.28" stroke="#1f77b4" stroke-width="0.95"/><line x1="122.28" y1="88.53" x2="122.28" y2="70.82" stroke="#1f77b4" stroke-width="0.95"/><line x1="125.71" y1="98.20" x2="125.71" y2="88.36" stroke="#1f77b4" stroke-width="0.95"/><line x1="131.26" y1="97.05" x2="131.26" y2="93.11" stroke="#1f77b4" stroke-width="0.95"/><line x1="133.90" y1="92.62" x2="133.90" y2="82.30" stroke="#1f77b4" stroke-width="0.95"/><circle cx="29.71" cy="111.47" r="3.3" fill="#1f77b4"/><circle cx="33.41" cy="111.47" r="3.3" fill="#1f77b4"/><circle cx="37.51" cy="116.39" r="3.3" fill="#1f77b4"/><circle cx="41.20" cy="113.27" r="3.3" fill="#1f77b4"/><circle cx="44.64" cy="108.68" r="3.3" fill="#1f77b4"/><circle cx="46.88" cy="105.08" r="3.3" fill="#1f77b4"/><circle cx="43.58" cy="82.95" r="3.3" fill="#1f77b4"/><circle cx="49.65" cy="95.08" r="3.3" fill="#1f77b4"/><circle cx="52.16" cy="102.13" r="3.3" fill="#1f77b4"/><circle cx="54.67" cy="105.73" r="3.3" fill="#1f77b4"/><circle cx="58.24" cy="108.68" r="3.3" fill="#1f77b4"/><circle cx="61.01" cy="104.26" r="3.3" fill="#1f77b4"/><circle cx="63.92" cy="99.01" r="3.3" fill="#1f77b4"/><circle cx="66.42" cy="96.72" r="3.3" fill="#1f77b4"/><circle cx="67.48" cy="85.25" r="3.3" fill="#1f77b4"/><circle cx="68.93" cy="71.64" r="3.3" fill="#1f77b4"/><circle cx="71.71" cy="95.08" r="3.3" fill="#1f77b4"/><circle cx="73.95" cy="94.59" r="3.3" fill="#1f77b4"/><circle cx="75.40" cy="98.03" r="3.3" fill="#1f77b4"/><circle cx="77.38" cy="101.47" r="3.3" fill="#1f77b4"/><circle cx="79.76" cy="101.96" r="3.3" fill="#1f77b4"/><circle cx="80.42" cy="123.60" r="3.3" fill="#1f77b4"/><circle cx="82.27" cy="119.34" r="3.3" fill="#1f77b4"/><circle cx="84.91" cy="116.72" r="3.3" fill="#1f77b4"/><circle cx="87.68" cy="116.06" r="3.3" fill="#1f77b4"/><circle cx="89.66" cy="120.16" r="3.3" fill="#1f77b4"/><circle cx="91.78" cy="116.72" r="3.3" fill="#1f77b4"/><circle cx="94.55" cy="118.03" r="3.3" fill="#1f77b4"/><circle cx="95.87" cy="114.59" r="3.3" fill="#1f77b4"/><circle cx="97.32" cy="107.37" r="3.3" fill="#1f77b4"/><circle cx="101.55" cy="109.18" r="3.3" fill="#1f77b4"/><circle cx="107.36" cy="107.37" r="3.3" fill="#1f77b4"/><circle cx="109.87" cy="99.34" r="3.3" fill="#1f77b4"/><circle cx="105.64" cy="82.95" r="3.3" fill="#1f77b4"/><circle cx="113.70" cy="85.25" r="3.3" fill="#1f77b4"/><circle cx="118.19" cy="89.18" r="3.3" fill="#1f77b4"/><circle cx="122.28" cy="76.72" r="3.3" fill="#1f77b4"/><circle cx="125.71" cy="93.28" r="3.3" fill="#1f77b4"/><circle cx="131.26" cy="95.08" r="3.3" fill="#1f77b4"/><circle cx="133.90" cy="89.34" r="3.3" fill="#1f77b4"/></g><rect x="102.54" y="18.66" width="56.01" height="11.34" rx="1.5" fill="#fff" fill-opacity="0.8" stroke="#ebebeb" stroke-width="0.9"/><circle cx="111.64" cy="24.20" r="3.25" fill="#1f77b4"/><text x="123.34" y="26.90" font-size="7.00" textLength="16.31" lengthAdjust="spacingAndGlyphs" text-anchor="start" font-style="italic" stroke="#000" stroke-width="0.04" style="font-family:'Liberation Sans', sans-serif">Swift</text><text x="139.65" y="26.90" font-size="7.00" textLength="15.50" lengthAdjust="spacingAndGlyphs" text-anchor="start"  stroke="#000" stroke-width="0.04" style="font-family:'Liberation Sans', sans-serif">-XRT</text><rect x="29.45" y="15.56" width="131.85" height="130.34" fill="none" stroke="#000" stroke-width="1.22"/><path d="M62.46,145.90v-4.5M62.46,15.56v4.5M95.48,145.90v-4.5M95.48,15.56v4.5M128.49,145.90v-4.5M128.49,15.56v4.5M29.45,129.50h4.5M161.30,129.50h-4.5M29.45,96.72h4.5M161.30,96.72h-4.5M29.45,63.94h4.5M161.30,63.94h-4.5M29.45,31.16h4.5M161.30,31.16h-4.5" stroke="#000" stroke-width="1.1" fill="none"/><text x="29.45" y="158.80" font-size="11.54" textLength="23.62" lengthAdjust="spacingAndGlyphs" text-anchor="middle"  stroke="#000" stroke-width="0.12" style="font-family:'Liberation Serif', serif">0.00</text><text x="62.46" y="158.80" font-size="11.54" textLength="23.62" lengthAdjust="spacingAndGlyphs" text-anchor="middle"  stroke="#000" stroke-width="0.12" style="font-family:'Liberation Serif', serif">0.25</text><text x="95.48" y="158.80" font-size="11.54" textLength="23.62" lengthAdjust="spacingAndGlyphs" text-anchor="middle"  stroke="#000" stroke-width="0.12" style="font-family:'Liberation Serif', serif">0.50</text><text x="128.49" y="158.80" font-size="11.54" textLength="23.62" lengthAdjust="spacingAndGlyphs" text-anchor="middle"  stroke="#000" stroke-width="0.12" style="font-family:'Liberation Serif', serif">0.75</text><text x="161.50" y="158.80" font-size="11.54" textLength="23.62" lengthAdjust="spacingAndGlyphs" text-anchor="middle"  stroke="#000" stroke-width="0.12" style="font-family:'Liberation Serif', serif">1.00</text><text x="24.95" y="133.40" font-size="11.54" textLength="6.55" lengthAdjust="spacingAndGlyphs" text-anchor="end"  stroke="#000" stroke-width="0.12" style="font-family:'Liberation Serif', serif">0</text><text x="24.95" y="100.62" font-size="11.54" textLength="6.55" lengthAdjust="spacingAndGlyphs" text-anchor="end"  stroke="#000" stroke-width="0.12" style="font-family:'Liberation Serif', serif">2</text><text x="24.95" y="67.84" font-size="11.54" textLength="6.55" lengthAdjust="spacingAndGlyphs" text-anchor="end"  stroke="#000" stroke-width="0.12" style="font-family:'Liberation Serif', serif">4</text><text x="24.95" y="35.06" font-size="11.54" textLength="6.55" lengthAdjust="spacingAndGlyphs" text-anchor="end"  stroke="#000" stroke-width="0.12" style="font-family:'Liberation Serif', serif">6</text><text x="29.65" y="11.66" font-size="11.54" textLength="34.39" lengthAdjust="spacingAndGlyphs" text-anchor="start"  stroke="#000" stroke-width="0.12" style="font-family:'Liberation Serif', serif">1e−12</text><text x="95.48" y="174.00" font-size="11.65" textLength="69.28" lengthAdjust="spacingAndGlyphs" text-anchor="middle"  stroke="#000" stroke-width="0.12" style="font-family:'Liberation Serif', serif">orbital phase</text><g transform="translate(10.10,81.53) rotate(-90)"><text x="-74.72" y="0.00" font-size="11.65" textLength="131.37" lengthAdjust="spacingAndGlyphs" text-anchor="start"  stroke="#000" stroke-width="0.12" style="font-family:'Liberation Serif', serif">Flux 0.3-10 keV (erg/(cm</text><text x="56.64" y="-3.80" font-size="8.15" textLength="4.63" lengthAdjust="spacingAndGlyphs" text-anchor="start"  stroke="#000" stroke-width="0.12" style="font-family:'Liberation Serif', serif">2</text><text x="61.27" y="0.00" font-size="11.65" textLength="13.45" lengthAdjust="spacingAndGlyphs" text-anchor="start"  stroke="#000" stroke-width="0.12" style="font-family:'Liberation Serif', serif">s))</text></g><text x="42.45" y="28.41" font-size="9.46" textLength="39.92" lengthAdjust="spacingAndGlyphs" text-anchor="start"  stroke="#000" stroke-width="0.12" style="font-family:'Liberation Serif', serif">Orbit 10:</text><text x="42.45" y="38.41" font-size="9.46" textLength="50.32" lengthAdjust="spacingAndGlyphs" text-anchor="start"  stroke="#000" stroke-width="0.12" style="font-family:'Liberation Serif', serif">MJD 55808</text></g><g transform="translate(368.50,369.70)"><use href="#mdl"/><line x1="29.70" y1="129.50" x2="161.30" y2="129.50" stroke="#666" stroke-width="1.9" stroke-dasharray="1.75,3.395"/><g clip-path="url(#ac)"><line x1="80.55" y1="117.04" x2="80.55" y2="92.29" stroke="#1f77b4" stroke-width="0.95"/><line x1="83.19" y1="101.96" x2="83.19" y2="98.03" stroke="#1f77b4" stroke-width="0.95"/><line x1="82.93" y1="106.39" x2="82.93" y2="102.46" stroke="#1f77b4" stroke-width="0.95"/><line x1="84.91" y1="120.49" x2="84.91" y2="116.55" stroke="#1f77b4" stroke-width="0.95"/><line x1="87.42" y1="121.96" x2="87.42" y2="118.03" stroke="#1f77b4" stroke-width="0.95"/><line x1="91.51" y1="123.76" x2="91.51" y2="119.83" stroke="#1f77b4" stroke-width="0.95"/><line x1="88.34" y1="127.53" x2="88.34" y2="123.60" stroke="#1f77b4" stroke-width="0.95"/><line x1="93.23" y1="115.08" x2="93.23" y2="111.14" stroke="#1f77b4" stroke-width="0.95"/><line x1="94.95" y1="111.14" x2="94.95" y2="103.44" stroke="#1f77b4" stroke-width="0.95"/><line x1="111.59" y1="100.00" x2="111.59" y2="85.25" stroke="#1f77b4" stroke-width="0.95"/><line x1="115.41" y1="88.36" x2="115.41" y2="76.56" stroke="#1f77b4" stroke-width="0.95"/><line x1="118.85" y1="105.73" x2="118.85" y2="101.80" stroke="#1f77b4" stroke-width="0.95"/><line x1="123.73" y1="100.16" x2="123.73" y2="91.97" stroke="#1f77b4" stroke-width="0.95"/><line x1="127.96" y1="95.41" x2="127.96" y2="82.30" stroke="#1f77b4" stroke-width="0.95"/><line x1="135.88" y1="99.67" x2="135.88" y2="90.49" stroke="#1f77b4" stroke-width="0.95"/><line x1="140.24" y1="107.05" x2="140.24" y2="98.85" stroke="#1f77b4" stroke-width="0.95"/><line x1="144.47" y1="106.88" x2="144.47" y2="95.41" stroke="#1f77b4" stroke-width="0.95"/><line x1="148.43" y1="112.13" x2="148.43" y2="108.19" stroke="#1f77b4" stroke-width="0.95"/><line x1="153.05" y1="113.44" x2="153.05" y2="109.50" stroke="#1f77b4" stroke-width="0.95"/><circle cx="80.55" cy="102.62" r="3.3" fill="#1f77b4"/><circle cx="83.19" cy="100.00" r="3.3" fill="#1f77b4"/><circle cx="82.93" cy="104.42" r="3.3" fill="#1f77b4"/><circle cx="84.91" cy="118.52" r="3.3" fill="#1f77b4"/><circle cx="87.42" cy="119.99" r="3.3" fill="#1f77b4"/><circle cx="91.51" cy="121.80" r="3.3" fill="#1f77b4"/><circle cx="88.34" cy="125.57" r="3.3" fill="#1f77b4"/><circle cx="93.23" cy="113.11" r="3.3" fill="#1f77b4"/><circle cx="94.95" cy="107.87" r="3.3" fill="#1f77b4"/><circle cx="111.59" cy="92.62" r="3.3" fill="#1f77b4"/><circle cx="115.41" cy="82.46" r="3.3" fill="#1f77b4"/><circle cx="118.85" cy="103.77" r="3.3" fill="#1f77b4"/><circle cx="123.73" cy="96.06" r="3.3" fill="#1f77b4"/><circle cx="127.96" cy="88.85" r="3.3" fill="#1f77b4"/><circle cx="135.88" cy="95.08" r="3.3" fill="#1f77b4"/><circle cx="140.24" cy="102.13" r="3.3" fill="#1f77b4"/><circle cx="144.47" cy="101.15" r="3.3" fill="#1f77b4"/><circle cx="148.43" cy="110.16" r="3.3" fill="#1f77b4"/><circle cx="153.05" cy="111.47" r="3.3" fill="#1f77b4"/></g><rect x="102.54" y="18.66" width="56.01" height="11.34" rx="1.5" fill="#fff" fill-opacity="0.8" stroke="#ebebeb" stroke-width="0.9"/><circle cx="111.64" cy="24.20" r="3.25" fill="#1f77b4"/><text x="123.34" y="26.90" font-size="7.00" textLength="16.31" lengthAdjust="spacingAndGlyphs" text-anchor="start" font-style="italic" stroke="#000" stroke-width="0.04" style="font-family:'Liberation Sans', sans-serif">Swift</text><text x="139.65" y="26.90" font-size="7.00" textLength="15.50" lengthAdjust="spacingAndGlyphs" text-anchor="start"  stroke="#000" stroke-width="0.04" style="font-family:'Liberation Sans', sans-serif">-XRT</text><rect x="29.45" y="15.56" width="131.85" height="130.34" fill="none" stroke="#000" stroke-width="1.22"/><path d="M62.46,145.90v-4.5M62.46,15.56v4.5M95.48,145.90v-4.5M95.48,15.56v4.5M128.49,145.90v-4.5M128.49,15.56v4.5M29.45,129.50h4.5M161.30,129.50h-4.5M29.45,96.72h4.5M161.30,96.72h-4.5M29.45,63.94h4.5M161.30,63.94h-4.5M29.45,31.16h4.5M161.30,31.16h-4.5" stroke="#000" stroke-width="1.1" fill="none"/><text x="29.45" y="158.80" font-size="11.54" textLength="23.62" lengthAdjust="spacingAndGlyphs" text-anchor="middle"  stroke="#000" stroke-width="0.12" style="font-family:'Liberation Serif', serif">0.00</text><text x="62.46" y="158.80" font-size="11.54" textLength="23.62" lengthAdjust="spacingAndGlyphs" text-anchor="middle"  stroke="#000" stroke-width="0.12" style="font-family:'Liberation Serif', serif">0.25</text><text x="95.48" y="158.80" font-size="11.54" textLength="23.62" lengthAdjust="spacingAndGlyphs" text-anchor="middle"  stroke="#000" stroke-width="0.12" style="font-family:'Liberation Serif', serif">0.50</text><text x="128.49" y="158.80" font-size="11.54" textLength="23.62" lengthAdjust="spacingAndGlyphs" text-anchor="middle"  stroke="#000" stroke-width="0.12" style="font-family:'Liberation Serif', serif">0.75</text><text x="161.50" y="158.80" font-size="11.54" textLength="23.62" lengthAdjust="spacingAndGlyphs" text-anchor="middle"  stroke="#000" stroke-width="0.12" style="font-family:'Liberation Serif', serif">1.00</text><text x="24.95" y="133.40" font-size="11.54" textLength="6.55" lengthAdjust="spacingAndGlyphs" text-anchor="end"  stroke="#000" stroke-width="0.12" style="font-family:'Liberation Serif', serif">0</text><text x="24.95" y="100.62" font-size="11.54" textLength="6.55" lengthAdjust="spacingAndGlyphs" text-anchor="end"  stroke="#000" stroke-width="0.12" style="font-family:'Liberation Serif', serif">2</text><text x="24.95" y="67.84" font-size="11.54" textLength="6.55" lengthAdjust="spacingAndGlyphs" text-anchor="end"  stroke="#000" stroke-width="0.12" style="font-family:'Liberation Serif', serif">4</text><text x="24.95" y="35.06" font-size="11.54" textLength="6.55" lengthAdjust="spacingAndGlyphs" text-anchor="end"  stroke="#000" stroke-width="0.12" style="font-family:'Liberation Serif', serif">6</text><text x="29.65" y="11.66" font-size="11.54" textLength="34.39" lengthAdjust="spacingAndGlyphs" text-anchor="start"  stroke="#000" stroke-width="0.12" style="font-family:'Liberation Serif', serif">1e−12</text><text x="95.48" y="174.00" font-size="11.65" textLength="69.28" lengthAdjust="spacingAndGlyphs" text-anchor="middle"  stroke="#000" stroke-width="0.12" style="font-family:'Liberation Serif', serif">orbital phase</text><g transform="translate(10.10,81.53) rotate(-90)"><text x="-74.72" y="0.00" font-size="11.65" textLength="131.37" lengthAdjust="spacingAndGlyphs" text-anchor="start"  stroke="#000" stroke-width="0.12" style="font-family:'Liberation Serif', serif">Flux 0.3-10 keV (erg/(cm</text><text x="56.64" y="-3.80" font-size="8.15" textLength="4.63" lengthAdjust="spacingAndGlyphs" text-anchor="start"  stroke="#000" stroke-width="0.12" style="font-family:'Liberation Serif', serif">2</text><text x="61.27" y="0.00" font-size="11.65" textLength="13.45" lengthAdjust="spacingAndGlyphs" text-anchor="start"  stroke="#000" stroke-width="0.12" style="font-family:'Liberation Serif', serif">s))</text></g><text x="42.45" y="28.41" font-size="9.46" textLength="39.92" lengthAdjust="spacingAndGlyphs" text-anchor="start"  stroke="#000" stroke-width="0.12" style="font-family:'Liberation Serif', serif">Orbit 11:</text><text x="42.45" y="38.41" font-size="9.46" textLength="50.32" lengthAdjust="spacingAndGlyphs" text-anchor="start"  stroke="#000" stroke-width="0.12" style="font-family:'Liberation Serif', serif">MJD 56126</text></g><g transform="translate(552.70,369.70)"><use href="#mdl"/><line x1="29.70" y1="129.50" x2="161.30" y2="129.50" stroke="#666" stroke-width="1.9" stroke-dasharray="1.75,3.395"/><g clip-path="url(#ac)"><line x1="116.47" y1="87.21" x2="116.47" y2="78.69" stroke="#1f77b4" stroke-width="0.95"/><line x1="118.06" y1="99.18" x2="118.06" y2="90.33" stroke="#1f77b4" stroke-width="0.95"/><line x1="119.51" y1="106.23" x2="119.51" y2="102.29" stroke="#1f77b4" stroke-width="0.95"/><line x1="121.09" y1="108.19" x2="121.09" y2="104.26" stroke="#1f77b4" stroke-width="0.95"/><line x1="127.96" y1="107.37" x2="127.96" y2="99.51" stroke="#1f77b4" stroke-width="0.95"/><line x1="131.00" y1="119.99" x2="131.00" y2="77.54" stroke="#1f77b4" stroke-width="0.95"/><line x1="130.34" y1="102.13" x2="130.34" y2="98.20" stroke="#1f77b4" stroke-width="0.95"/><line x1="140.24" y1="113.11" x2="140.24" y2="109.18" stroke="#1f77b4" stroke-width="0.95"/><line x1="143.28" y1="115.57" x2="143.28" y2="105.41" stroke="#1f77b4" stroke-width="0.95"/><line x1="152.39" y1="110.32" x2="152.39" y2="103.11" stroke="#1f77b4" stroke-width="0.95"/><line x1="155.03" y1="111.63" x2="155.03" y2="107.70" stroke="#1f77b4" stroke-width="0.95"/><circle cx="116.47" cy="82.95" r="3.3" fill="#1f77b4"/><circle cx="118.06" cy="95.90" r="3.3" fill="#1f77b4"/><circle cx="119.51" cy="104.26" r="3.3" fill="#1f77b4"/><circle cx="121.09" cy="106.23" r="3.3" fill="#1f77b4"/><circle cx="127.96" cy="102.78" r="3.3" fill="#1f77b4"/><circle cx="131.00" cy="98.69" r="3.3" fill="#1f77b4"/><circle cx="130.34" cy="100.16" r="3.3" fill="#1f77b4"/><circle cx="140.24" cy="111.14" r="3.3" fill="#1f77b4"/><circle cx="143.28" cy="112.29" r="3.3" fill="#1f77b4"/><circle cx="152.39" cy="107.05" r="3.3" fill="#1f77b4"/><circle cx="155.03" cy="109.67" r="3.3" fill="#1f77b4"/></g><rect x="102.54" y="18.66" width="56.01" height="11.34" rx="1.5" fill="#fff" fill-opacity="0.8" stroke="#ebebeb" stroke-width="0.9"/><circle cx="111.64" cy="24.20" r="3.25" fill="#1f77b4"/><text x="123.34" y="26.90" font-size="7.00" textLength="16.31" lengthAdjust="spacingAndGlyphs" text-anchor="start" font-style="italic" stroke="#000" stroke-width="0.04" style="font-family:'Liberation Sans', sans-serif">Swift</text><text x="139.65" y="26.90" font-size="7.00" textLength="15.50" lengthAdjust="spacingAndGlyphs" text-anchor="start"  stroke="#000" stroke-width="0.04" style="font-family:'Liberation Sans', sans-serif">-XRT</text><rect x="29.45" y="15.56" width="131.85" height="130.34" fill="none" stroke="#000" stroke-width="1.22"/><path d="M62.46,145.90v-4.5M62.46,15.56v4.5M95.48,145.90v-4.5M95.48,15.56v4.5M128.49,145.90v-4.5M128.49,15.56v4.5M29.45,129.50h4.5M161.30,129.50h-4.5M29.45,96.72h4.5M161.30,96.72h-4.5M29.45,63.94h4.5M161.30,63.94h-4.5M29.45,31.16h4.5M161.30,31.16h-4.5" stroke="#000" stroke-width="1.1" fill="none"/><text x="29.45" y="158.80" font-size="11.54" textLength="23.62" lengthAdjust="spacingAndGlyphs" text-anchor="middle"  stroke="#000" stroke-width="0.12" style="font-family:'Liberation Serif', serif">0.00</text><text x="62.46" y="158.80" font-size="11.54" textLength="23.62" lengthAdjust="spacingAndGlyphs" text-anchor="middle"  stroke="#000" stroke-width="0.12" style="font-family:'Liberation Serif', serif">0.25</text><text x="95.48" y="158.80" font-size="11.54" textLength="23.62" lengthAdjust="spacingAndGlyphs" text-anchor="middle"  stroke="#000" stroke-width="0.12" style="font-family:'Liberation Serif', serif">0.50</text><text x="128.49" y="158.80" font-size="11.54" textLength="23.62" lengthAdjust="spacingAndGlyphs" text-anchor="middle"  stroke="#000" stroke-width="0.12" style="font-family:'Liberation Serif', serif">0.75</text><text x="161.50" y="158.80" font-size="11.54" textLength="23.62" lengthAdjust="spacingAndGlyphs" text-anchor="middle"  stroke="#000" stroke-width="0.12" style="font-family:'Liberation Serif', serif">1.00</text><text x="24.95" y="133.40" font-size="11.54" textLength="6.55" lengthAdjust="spacingAndGlyphs" text-anchor="end"  stroke="#000" stroke-width="0.12" style="font-family:'Liberation Serif', serif">0</text><text x="24.95" y="100.62" font-size="11.54" textLength="6.55" lengthAdjust="spacingAndGlyphs" text-anchor="end"  stroke="#000" stroke-width="0.12" style="font-family:'Liberation Serif', serif">2</text><text x="24.95" y="67.84" font-size="11.54" textLength="6.55" lengthAdjust="spacingAndGlyphs" text-anchor="end"  stroke="#000" stroke-width="0.12" style="font-family:'Liberation Serif', serif">4</text><text x="24.95" y="35.06" font-size="11.54" textLength="6.55" lengthAdjust="spacingAndGlyphs" text-anchor="end"  stroke="#000" stroke-width="0.12" style="font-family:'Liberation Serif', serif">6</text><text x="29.65" y="11.66" font-size="11.54" textLength="34.39" lengthAdjust="spacingAndGlyphs" text-anchor="start"  stroke="#000" stroke-width="0.12" style="font-family:'Liberation Serif', serif">1e−12</text><text x="95.48" y="174.00" font-size="11.65" textLength="69.28" lengthAdjust="spacingAndGlyphs" text-anchor="middle"  stroke="#000" stroke-width="0.12" style="font-family:'Liberation Serif', serif">orbital phase</text><g transform="translate(10.10,81.53) rotate(-90)"><text x="-74.72" y="0.00" font-size="11.65" textLength="131.37" lengthAdjust="spacingAndGlyphs" text-anchor="start"  stroke="#000" stroke-width="0.12" style="font-family:'Liberation Serif', serif">Flux 0.3-10 keV (erg/(cm</text><text x="56.64" y="-3.80" font-size="8.15" textLength="4.63" lengthAdjust="spacingAndGlyphs" text-anchor="start"  stroke="#000" stroke-width="0.12" style="font-family:'Liberation Serif', serif">2</text><text x="61.27" y="0.00" font-size="11.65" textLength="13.45" lengthAdjust="spacingAndGlyphs" text-anchor="start"  stroke="#000" stroke-width="0.12" style="font-family:'Liberation Serif', serif">s))</text></g><text x="42.45" y="28.41" font-size="9.46" textLength="39.92" lengthAdjust="spacingAndGlyphs" text-anchor="start"  stroke="#000" stroke-width="0.12" style="font-family:'Liberation Serif', serif">Orbit 12:</text><text x="42.45" y="38.41" font-size="9.46" textLength="50.32" lengthAdjust="spacingAndGlyphs" text-anchor="start"  stroke="#000" stroke-width="0.12" style="font-family:'Liberation Serif', serif">MJD 56443</text></g><g transform="translate(0.00,554.60)"><use href="#mdl"/><line x1="29.70" y1="129.50" x2="161.30" y2="129.50" stroke="#666" stroke-width="1.9" stroke-dasharray="1.75,3.395"/><g clip-path="url(#ac)"><line x1="114.62" y1="82.30" x2="114.62" y2="71.32" stroke="#1f77b4" stroke-width="0.95"/><line x1="113.04" y1="92.46" x2="113.04" y2="82.62" stroke="#1f77b4" stroke-width="0.95"/><line x1="111.85" y1="104.75" x2="111.85" y2="94.92" stroke="#1f77b4" stroke-width="0.95"/><line x1="113.43" y1="109.34" x2="113.43" y2="101.15" stroke="#1f77b4" stroke-width="0.95"/><line x1="122.55" y1="93.44" x2="122.55" y2="85.57" stroke="#1f77b4" stroke-width="0.95"/><line x1="121.09" y1="99.83" x2="121.09" y2="95.90" stroke="#1f77b4" stroke-width="0.95"/><line x1="117.13" y1="106.72" x2="117.13" y2="102.78" stroke="#1f77b4" stroke-width="0.95"/><line x1="120.30" y1="108.19" x2="120.30" y2="104.26" stroke="#1f77b4" stroke-width="0.95"/><line x1="122.55" y1="116.39" x2="122.55" y2="104.59" stroke="#1f77b4" stroke-width="0.95"/><line x1="124.53" y1="106.72" x2="124.53" y2="102.78" stroke="#1f77b4" stroke-width="0.95"/><line x1="147.11" y1="99.67" x2="147.11" y2="87.54" stroke="#1f77b4" stroke-width="0.95"/><line x1="150.94" y1="104.42" x2="150.94" y2="100.49" stroke="#1f77b4" stroke-width="0.95"/><line x1="144.86" y1="106.72" x2="144.86" y2="102.78" stroke="#1f77b4" stroke-width="0.95"/><line x1="143.28" y1="110.49" x2="143.28" y2="106.55" stroke="#1f77b4" stroke-width="0.95"/><line x1="148.56" y1="112.13" x2="148.56" y2="108.19" stroke="#1f77b4" stroke-width="0.95"/><line x1="144.33" y1="117.04" x2="144.33" y2="113.11" stroke="#1f77b4" stroke-width="0.95"/><circle cx="114.62" cy="79.02" r="3.3" fill="#1f77b4"/><circle cx="113.04" cy="87.54" r="3.3" fill="#1f77b4"/><circle cx="111.85" cy="99.83" r="3.3" fill="#1f77b4"/><circle cx="113.43" cy="104.42" r="3.3" fill="#1f77b4"/><circle cx="122.55" cy="90.16" r="3.3" fill="#1f77b4"/><circle cx="121.09" cy="97.87" r="3.3" fill="#1f77b4"/><circle cx="117.13" cy="104.75" r="3.3" fill="#1f77b4"/><circle cx="120.30" cy="106.23" r="3.3" fill="#1f77b4"/><circle cx="122.55" cy="107.87" r="3.3" fill="#1f77b4"/><circle cx="124.53" cy="104.75" r="3.3" fill="#1f77b4"/><circle cx="147.11" cy="96.39" r="3.3" fill="#1f77b4"/><circle cx="150.94" cy="102.46" r="3.3" fill="#1f77b4"/><circle cx="144.86" cy="104.75" r="3.3" fill="#1f77b4"/><circle cx="143.28" cy="108.52" r="3.3" fill="#1f77b4"/><circle cx="148.56" cy="110.16" r="3.3" fill="#1f77b4"/><circle cx="144.33" cy="115.08" r="3.3" fill="#1f77b4"/></g><rect x="102.54" y="18.66" width="56.01" height="11.34" rx="1.5" fill="#fff" fill-opacity="0.8" stroke="#ebebeb" stroke-width="0.9"/><circle cx="111.64" cy="24.20" r="3.25" fill="#1f77b4"/><text x="123.34" y="26.90" font-size="7.00" textLength="16.31" lengthAdjust="spacingAndGlyphs" text-anchor="start" font-style="italic" stroke="#000" stroke-width="0.04" style="font-family:'Liberation Sans', sans-serif">Swift</text><text x="139.65" y="26.90" font-size="7.00" textLength="15.50" lengthAdjust="spacingAndGlyphs" text-anchor="start"  stroke="#000" stroke-width="0.04" style="font-family:'Liberation Sans', sans-serif">-XRT</text><rect x="29.45" y="15.56" width="131.85" height="130.34" fill="none" stroke="#000" stroke-width="1.22"/><path d="M62.46,145.90v-4.5M62.46,15.56v4.5M95.48,145.90v-4.5M95.48,15.56v4.5M128.49,145.90v-4.5M128.49,15.56v4.5M29.45,129.50h4.5M161.30,129.50h-4.5M29.45,96.72h4.5M161.30,96.72h-4.5M29.45,63.94h4.5M161.30,63.94h-4.5M29.45,31.16h4.5M161.30,31.16h-4.5" stroke="#000" stroke-width="1.1" fill="none"/><text x="29.45" y="158.80" font-size="11.54" textLength="23.62" lengthAdjust="spacingAndGlyphs" text-anchor="middle"  stroke="#000" stroke-width="0.12" style="font-family:'Liberation Serif', serif">0.00</text><text x="62.46" y="158.80" font-size="11.54" textLength="23.62" lengthAdjust="spacingAndGlyphs" text-anchor="middle"  stroke="#000" stroke-width="0.12" style="font-family:'Liberation Serif', serif">0.25</text><text x="95.48" y="158.80" font-size="11.54" textLength="23.62" lengthAdjust="spacingAndGlyphs" text-anchor="middle"  stroke="#000" stroke-width="0.12" style="font-family:'Liberation Serif', serif">0.50</text><text x="128.49" y="158.80" font-size="11.54" textLength="23.62" lengthAdjust="spacingAndGlyphs" text-anchor="middle"  stroke="#000" stroke-width="0.12" style="font-family:'Liberation Serif', serif">0.75</text><text x="161.50" y="158.80" font-size="11.54" textLength="23.62" lengthAdjust="spacingAndGlyphs" text-anchor="middle"  stroke="#000" stroke-width="0.12" style="font-family:'Liberation Serif', serif">1.00</text><text x="24.95" y="133.40" font-size="11.54" textLength="6.55" lengthAdjust="spacingAndGlyphs" text-anchor="end"  stroke="#000" stroke-width="0.12" style="font-family:'Liberation Serif', serif">0</text><text x="24.95" y="100.62" font-size="11.54" textLength="6.55" lengthAdjust="spacingAndGlyphs" text-anchor="end"  stroke="#000" stroke-width="0.12" style="font-family:'Liberation Serif', serif">2</text><text x="24.95" y="67.84" font-size="11.54" textLength="6.55" lengthAdjust="spacingAndGlyphs" text-anchor="end"  stroke="#000" stroke-width="0.12" style="font-family:'Liberation Serif', serif">4</text><text x="24.95" y="35.06" font-size="11.54" textLength="6.55" lengthAdjust="spacingAndGlyphs" text-anchor="end"  stroke="#000" stroke-width="0.12" style="font-family:'Liberation Serif', serif">6</text><text x="29.65" y="11.66" font-size="11.54" textLength="34.39" lengthAdjust="spacingAndGlyphs" text-anchor="start"  stroke="#000" stroke-width="0.12" style="font-family:'Liberation Serif', serif">1e−12</text><text x="95.48" y="174.00" font-size="11.65" textLength="69.28" lengthAdjust="spacingAndGlyphs" text-anchor="middle"  stroke="#000" stroke-width="0.12" style="font-family:'Liberation Serif', serif">orbital phase</text><g transform="translate(10.10,81.53) rotate(-90)"><text x="-74.72" y="0.00" font-size="11.65" textLength="131.37" lengthAdjust="spacingAndGlyphs" text-anchor="start"  stroke="#000" stroke-width="0.12" style="font-family:'Liberation Serif', serif">Flux 0.3-10 keV (erg/(cm</text><text x="56.64" y="-3.80" font-size="8.15" textLength="4.63" lengthAdjust="spacingAndGlyphs" text-anchor="start"  stroke="#000" stroke-width="0.12" style="font-family:'Liberation Serif', serif">2</text><text x="61.27" y="0.00" font-size="11.65" textLength="13.45" lengthAdjust="spacingAndGlyphs" text-anchor="start"  stroke="#000" stroke-width="0.12" style="font-family:'Liberation Serif', serif">s))</text></g><text x="42.45" y="28.41" font-size="9.46" textLength="39.92" lengthAdjust="spacingAndGlyphs" text-anchor="start"  stroke="#000" stroke-width="0.12" style="font-family:'Liberation Serif', serif">Orbit 13:</text><text x="42.45" y="38.41" font-size="9.46" textLength="50.32" lengthAdjust="spacingAndGlyphs" text-anchor="start"  stroke="#000" stroke-width="0.12" style="font-family:'Liberation Serif', serif">MJD 56760</text></g><g transform="translate(184.35,554.60)"><use href="#mdl"/><line x1="29.70" y1="129.50" x2="161.30" y2="129.50" stroke="#666" stroke-width="1.9" stroke-dasharray="1.75,3.395"/><g clip-path="url(#ac)"><line x1="146.71" y1="104.91" x2="146.71" y2="95.90" stroke="#1f77b4" stroke-width="0.95"/><line x1="147.77" y1="107.05" x2="147.77" y2="103.11" stroke="#1f77b4" stroke-width="0.95"/><line x1="148.82" y1="109.83" x2="148.82" y2="105.90" stroke="#1f77b4" stroke-width="0.95"/><line x1="149.75" y1="112.62" x2="149.75" y2="108.68" stroke="#1f77b4" stroke-width="0.95"/><line x1="151.60" y1="117.21" x2="151.60" y2="110.65" stroke="#1f77b4" stroke-width="0.95"/><line x1="158.73" y1="112.78" x2="158.73" y2="98.69" stroke="#1f77b4" stroke-width="0.95"/><circle cx="146.71" cy="101.64" r="3.3" fill="#1f77b4"/><circle cx="147.77" cy="105.08" r="3.3" fill="#1f77b4"/><circle cx="148.82" cy="107.87" r="3.3" fill="#1f77b4"/><circle cx="149.75" cy="110.65" r="3.3" fill="#1f77b4"/><circle cx="151.60" cy="113.93" r="3.3" fill="#1f77b4"/><circle cx="158.73" cy="105.73" r="3.3" fill="#1f77b4"/></g><rect x="102.54" y="18.66" width="56.01" height="11.34" rx="1.5" fill="#fff" fill-opacity="0.8" stroke="#ebebeb" stroke-width="0.9"/><circle cx="111.64" cy="24.20" r="3.25" fill="#1f77b4"/><text x="123.34" y="26.90" font-size="7.00" textLength="16.31" lengthAdjust="spacingAndGlyphs" text-anchor="start" font-style="italic" stroke="#000" stroke-width="0.04" style="font-family:'Liberation Sans', sans-serif">Swift</text><text x="139.65" y="26.90" font-size="7.00" textLength="15.50" lengthAdjust="spacingAndGlyphs" text-anchor="start"  stroke="#000" stroke-width="0.04" style="font-family:'Liberation Sans', sans-serif">-XRT</text><rect x="29.45" y="15.56" width="131.85" height="130.34" fill="none" stroke="#000" stroke-width="1.22"/><path d="M62.46,145.90v-4.5M62.46,15.56v4.5M95.48,145.90v-4.5M95.48,15.56v4.5M128.49,145.90v-4.5M128.49,15.56v4.5M29.45,129.50h4.5M161.30,129.50h-4.5M29.45,96.72h4.5M161.30,96.72h-4.5M29.45,63.94h4.5M161.30,63.94h-4.5M29.45,31.16h4.5M161.30,31.16h-4.5" stroke="#000" stroke-width="1.1" fill="none"/><text x="29.45" y="158.80" font-size="11.54" textLength="23.62" lengthAdjust="spacingAndGlyphs" text-anchor="middle"  stroke="#000" stroke-width="0.12" style="font-family:'Liberation Serif', serif">0.00</text><text x="62.46" y="158.80" font-size="11.54" textLength="23.62" lengthAdjust="spacingAndGlyphs" text-anchor="middle"  stroke="#000" stroke-width="0.12" style="font-family:'Liberation Serif', serif">0.25</text><text x="95.48" y="158.80" font-size="11.54" textLength="23.62" lengthAdjust="spacingAndGlyphs" text-anchor="middle"  stroke="#000" stroke-width="0.12" style="font-family:'Liberation Serif', serif">0.50</text><text x="128.49" y="158.80" font-size="11.54" textLength="23.62" lengthAdjust="spacingAndGlyphs" text-anchor="middle"  stroke="#000" stroke-width="0.12" style="font-family:'Liberation Serif', serif">0.75</text><text x="161.50" y="158.80" font-size="11.54" textLength="23.62" lengthAdjust="spacingAndGlyphs" text-anchor="middle"  stroke="#000" stroke-width="0.12" style="font-family:'Liberation Serif', serif">1.00</text><text x="24.95" y="133.40" font-size="11.54" textLength="6.55" lengthAdjust="spacingAndGlyphs" text-anchor="end"  stroke="#000" stroke-width="0.12" style="font-family:'Liberation Serif', serif">0</text><text x="24.95" y="100.62" font-size="11.54" textLength="6.55" lengthAdjust="spacingAndGlyphs" text-anchor="end"  stroke="#000" stroke-width="0.12" style="font-family:'Liberation Serif', serif">2</text><text x="24.95" y="67.84" font-size="11.54" textLength="6.55" lengthAdjust="spacingAndGlyphs" text-anchor="end"  stroke="#000" stroke-width="0.12" style="font-family:'Liberation Serif', serif">4</text><text x="24.95" y="35.06" font-size="11.54" textLength="6.55" lengthAdjust="spacingAndGlyphs" text-anchor="end"  stroke="#000" stroke-width="0.12" style="font-family:'Liberation Serif', serif">6</text><text x="29.65" y="11.66" font-size="11.54" textLength="34.39" lengthAdjust="spacingAndGlyphs" text-anchor="start"  stroke="#000" stroke-width="0.12" style="font-family:'Liberation Serif', serif">1e−12</text><text x="95.48" y="174.00" font-size="11.65" textLength="69.28" lengthAdjust="spacingAndGlyphs" text-anchor="middle"  stroke="#000" stroke-width="0.12" style="font-family:'Liberation Serif', serif">orbital phase</text><g transform="translate(10.10,81.53) rotate(-90)"><text x="-74.72" y="0.00" font-size="11.65" textLength="131.37" lengthAdjust="spacingAndGlyphs" text-anchor="start"  stroke="#000" stroke-width="0.12" style="font-family:'Liberation Serif', serif">Flux 0.3-10 keV (erg/(cm</text><text x="56.64" y="-3.80" font-size="8.15" textLength="4.63" lengthAdjust="spacingAndGlyphs" text-anchor="start"  stroke="#000" stroke-width="0.12" style="font-family:'Liberation Serif', serif">2</text><text x="61.27" y="0.00" font-size="11.65" textLength="13.45" lengthAdjust="spacingAndGlyphs" text-anchor="start"  stroke="#000" stroke-width="0.12" style="font-family:'Liberation Serif', serif">s))</text></g><text x="42.45" y="28.41" font-size="9.46" textLength="39.92" lengthAdjust="spacingAndGlyphs" text-anchor="start"  stroke="#000" stroke-width="0.12" style="font-family:'Liberation Serif', serif">Orbit 14:</text><text x="42.45" y="38.41" font-size="9.46" textLength="50.32" lengthAdjust="spacingAndGlyphs" text-anchor="start"  stroke="#000" stroke-width="0.12" style="font-family:'Liberation Serif', serif">MJD 57078</text></g><g transform="translate(368.50,554.60)"><use href="#mdl"/><line x1="29.70" y1="129.50" x2="161.30" y2="129.50" stroke="#666" stroke-width="1.9" stroke-dasharray="1.75,3.395"/><g clip-path="url(#ac)"><line x1="29.98" y1="117.70" x2="29.98" y2="113.77" stroke="#1f77b4" stroke-width="0.95"/><line x1="38.43" y1="105.73" x2="38.43" y2="101.80" stroke="#1f77b4" stroke-width="0.95"/><line x1="39.35" y1="104.75" x2="39.35" y2="100.82" stroke="#1f77b4" stroke-width="0.95"/><line x1="40.94" y1="103.93" x2="40.94" y2="95.74" stroke="#1f77b4" stroke-width="0.95"/><line x1="42.39" y1="110.16" x2="42.39" y2="103.60" stroke="#1f77b4" stroke-width="0.95"/><circle cx="29.98" cy="115.73" r="3.3" fill="#1f77b4"/><circle cx="38.43" cy="103.77" r="3.3" fill="#1f77b4"/><circle cx="39.35" cy="102.78" r="3.3" fill="#1f77b4"/><circle cx="40.94" cy="100.65" r="3.3" fill="#1f77b4"/><circle cx="42.39" cy="105.24" r="3.3" fill="#1f77b4"/></g><rect x="102.54" y="18.66" width="56.01" height="11.34" rx="1.5" fill="#fff" fill-opacity="0.8" stroke="#ebebeb" stroke-width="0.9"/><circle cx="111.64" cy="24.20" r="3.25" fill="#1f77b4"/><text x="123.34" y="26.90" font-size="7.00" textLength="16.31" lengthAdjust="spacingAndGlyphs" text-anchor="start" font-style="italic" stroke="#000" stroke-width="0.04" style="font-family:'Liberation Sans', sans-serif">Swift</text><text x="139.65" y="26.90" font-size="7.00" textLength="15.50" lengthAdjust="spacingAndGlyphs" text-anchor="start"  stroke="#000" stroke-width="0.04" style="font-family:'Liberation Sans', sans-serif">-XRT</text><rect x="29.45" y="15.56" width="131.85" height="130.34" fill="none" stroke="#000" stroke-width="1.22"/><path d="M62.46,145.90v-4.5M62.46,15.56v4.5M95.48,145.90v-4.5M95.48,15.56v4.5M128.49,145.90v-4.5M128.49,15.56v4.5M29.45,129.50h4.5M161.30,129.50h-4.5M29.45,96.72h4.5M161.30,96.72h-4.5M29.45,63.94h4.5M161.30,63.94h-4.5M29.45,31.16h4.5M161.30,31.16h-4.5" stroke="#000" stroke-width="1.1" fill="none"/><text x="29.45" y="158.80" font-size="11.54" textLength="23.62" lengthAdjust="spacingAndGlyphs" text-anchor="middle"  stroke="#000" stroke-width="0.12" style="font-family:'Liberation Serif', serif">0.00</text><text x="62.46" y="158.80" font-size="11.54" textLength="23.62" lengthAdjust="spacingAndGlyphs" text-anchor="middle"  stroke="#000" stroke-width="0.12" style="font-family:'Liberation Serif', serif">0.25</text><text x="95.48" y="158.80" font-size="11.54" textLength="23.62" lengthAdjust="spacingAndGlyphs" text-anchor="middle"  stroke="#000" stroke-width="0.12" style="font-family:'Liberation Serif', serif">0.50</text><text x="128.49" y="158.80" font-size="11.54" textLength="23.62" lengthAdjust="spacingAndGlyphs" text-anchor="middle"  stroke="#000" stroke-width="0.12" style="font-family:'Liberation Serif', serif">0.75</text><text x="161.50" y="158.80" font-size="11.54" textLength="23.62" lengthAdjust="spacingAndGlyphs" text-anchor="middle"  stroke="#000" stroke-width="0.12" style="font-family:'Liberation Serif', serif">1.00</text><text x="24.95" y="133.40" font-size="11.54" textLength="6.55" lengthAdjust="spacingAndGlyphs" text-anchor="end"  stroke="#000" stroke-width="0.12" style="font-family:'Liberation Serif', serif">0</text><text x="24.95" y="100.62" font-size="11.54" textLength="6.55" lengthAdjust="spacingAndGlyphs" text-anchor="end"  stroke="#000" stroke-width="0.12" style="font-family:'Liberation Serif', serif">2</text><text x="24.95" y="67.84" font-size="11.54" textLength="6.55" lengthAdjust="spacingAndGlyphs" text-anchor="end"  stroke="#000" stroke-width="0.12" style="font-family:'Liberation Serif', serif">4</text><text x="24.95" y="35.06" font-size="11.54" textLength="6.55" lengthAdjust="spacingAndGlyphs" text-anchor="end"  stroke="#000" stroke-width="0.12" style="font-family:'Liberation Serif', serif">6</text><text x="29.65" y="11.66" font-size="11.54" textLength="34.39" lengthAdjust="spacingAndGlyphs" text-anchor="start"  stroke="#000" stroke-width="0.12" style="font-family:'Liberation Serif', serif">1e−12</text><text x="95.48" y="174.00" font-size="11.65" textLength="69.28" lengthAdjust="spacingAndGlyphs" text-anchor="middle"  stroke="#000" stroke-width="0.12" style="font-family:'Liberation Serif', serif">orbital phase</text><g transform="translate(10.10,81.53) rotate(-90)"><text x="-74.72" y="0.00" font-size="11.65" textLength="131.37" lengthAdjust="spacingAndGlyphs" text-anchor="start"  stroke="#000" stroke-width="0.12" style="font-family:'Liberation Serif', serif">Flux 0.3-10 keV (erg/(cm</text><text x="56.64" y="-3.80" font-size="8.15" textLength="4.63" lengthAdjust="spacingAndGlyphs" text-anchor="start"  stroke="#000" stroke-width="0.12" style="font-family:'Liberation Serif', serif">2</text><text x="61.27" y="0.00" font-size="11.65" textLength="13.45" lengthAdjust="spacingAndGlyphs" text-anchor="start"  stroke="#000" stroke-width="0.12" style="font-family:'Liberation Serif', serif">s))</text></g><text x="42.45" y="28.41" font-size="9.46" textLength="39.92" lengthAdjust="spacingAndGlyphs" text-anchor="start"  stroke="#000" stroke-width="0.12" style="font-family:'Liberation Serif', serif">Orbit 15:</text><text x="42.45" y="38.41" font-size="9.46" textLength="50.32" lengthAdjust="spacingAndGlyphs" text-anchor="start"  stroke="#000" stroke-width="0.12" style="font-family:'Liberation Serif', serif">MJD 57395</text></g><g transform="translate(552.70,554.60)"><use href="#mdl"/><line x1="29.70" y1="129.50" x2="161.30" y2="129.50" stroke="#666" stroke-width="1.9" stroke-dasharray="1.75,3.395"/><g clip-path="url(#ac)"><line x1="53.35" y1="103.44" x2="53.35" y2="99.51" stroke="#1f77b4" stroke-width="0.95"/><line x1="57.05" y1="111.63" x2="57.05" y2="107.70" stroke="#1f77b4" stroke-width="0.95"/><line x1="59.16" y1="109.50" x2="59.16" y2="105.57" stroke="#1f77b4" stroke-width="0.95"/><line x1="63.25" y1="101.31" x2="63.25" y2="97.38" stroke="#1f77b4" stroke-width="0.95"/><line x1="64.71" y1="108.52" x2="64.71" y2="104.59" stroke="#1f77b4" stroke-width="0.95"/><line x1="65.76" y1="95.41" x2="65.76" y2="86.39" stroke="#1f77b4" stroke-width="0.95"/><line x1="68.93" y1="94.10" x2="68.93" y2="90.16" stroke="#1f77b4" stroke-width="0.95"/><line x1="68.93" y1="80.00" x2="68.93" y2="64.76" stroke="#1f77b4" stroke-width="0.95"/><line x1="69.86" y1="115.24" x2="69.86" y2="80.00" stroke="#1f77b4" stroke-width="0.95"/><line x1="74.61" y1="97.54" x2="74.61" y2="89.34" stroke="#1f77b4" stroke-width="0.95"/><line x1="76.46" y1="101.80" x2="76.46" y2="97.87" stroke="#1f77b4" stroke-width="0.95"/><line x1="78.57" y1="116.39" x2="78.57" y2="112.45" stroke="#1f77b4" stroke-width="0.95"/><line x1="81.35" y1="115.73" x2="81.35" y2="106.72" stroke="#1f77b4" stroke-width="0.95"/><line x1="82.27" y1="125.24" x2="82.27" y2="121.31" stroke="#1f77b4" stroke-width="0.95"/><line x1="84.38" y1="127.21" x2="84.38" y2="123.27" stroke="#1f77b4" stroke-width="0.95"/><line x1="86.36" y1="125.24" x2="86.36" y2="121.31" stroke="#1f77b4" stroke-width="0.95"/><line x1="88.48" y1="122.12" x2="88.48" y2="118.19" stroke="#1f77b4" stroke-width="0.95"/><line x1="90.59" y1="108.52" x2="90.59" y2="104.59" stroke="#1f77b4" stroke-width="0.95"/><circle cx="53.35" cy="101.47" r="3.3" fill="#1f77b4"/><circle cx="57.05" cy="109.67" r="3.3" fill="#1f77b4"/><circle cx="59.16" cy="107.54" r="3.3" fill="#1f77b4"/><circle cx="63.25" cy="99.34" r="3.3" fill="#1f77b4"/><circle cx="64.71" cy="106.55" r="3.3" fill="#1f77b4"/><circle cx="65.76" cy="92.13" r="3.3" fill="#1f77b4"/><circle cx="68.93" cy="92.13" r="3.3" fill="#1f77b4"/><circle cx="68.93" cy="72.46" r="3.3" fill="#1f77b4"/><circle cx="69.86" cy="99.34" r="3.3" fill="#1f77b4"/><circle cx="74.61" cy="94.26" r="3.3" fill="#1f77b4"/><circle cx="76.46" cy="99.83" r="3.3" fill="#1f77b4"/><circle cx="78.57" cy="114.42" r="3.3" fill="#1f77b4"/><circle cx="81.35" cy="112.45" r="3.3" fill="#1f77b4"/><circle cx="82.27" cy="123.27" r="3.3" fill="#1f77b4"/><circle cx="84.38" cy="125.24" r="3.3" fill="#1f77b4"/><circle cx="86.36" cy="123.27" r="3.3" fill="#1f77b4"/><circle cx="88.48" cy="120.16" r="3.3" fill="#1f77b4"/><circle cx="90.59" cy="106.55" r="3.3" fill="#1f77b4"/></g><rect x="102.54" y="18.66" width="56.01" height="11.34" rx="1.5" fill="#fff" fill-opacity="0.8" stroke="#ebebeb" stroke-width="0.9"/><circle cx="111.64" cy="24.20" r="3.25" fill="#1f77b4"/><text x="123.34" y="26.90" font-size="7.00" textLength="16.31" lengthAdjust="spacingAndGlyphs" text-anchor="start" font-style="italic" stroke="#000" stroke-width="0.04" style="font-family:'Liberation Sans', sans-serif">Swift</text><text x="139.65" y="26.90" font-size="7.00" textLength="15.50" lengthAdjust="spacingAndGlyphs" text-anchor="start"  stroke="#000" stroke-width="0.04" style="font-family:'Liberation Sans', sans-serif">-XRT</text><rect x="29.45" y="15.56" width="131.85" height="130.34" fill="none" stroke="#000" stroke-width="1.22"/><path d="M62.46,145.90v-4.5M62.46,15.56v4.5M95.48,145.90v-4.5M95.48,15.56v4.5M128.49,145.90v-4.5M128.49,15.56v4.5M29.45,129.50h4.5M161.30,129.50h-4.5M29.45,96.72h4.5M161.30,96.72h-4.5M29.45,63.94h4.5M161.30,63.94h-4.5M29.45,31.16h4.5M161.30,31.16h-4.5" stroke="#000" stroke-width="1.1" fill="none"/><text x="29.45" y="158.80" font-size="11.54" textLength="23.62" lengthAdjust="spacingAndGlyphs" text-anchor="middle"  stroke="#000" stroke-width="0.12" style="font-family:'Liberation Serif', serif">0.00</text><text x="62.46" y="158.80" font-size="11.54" textLength="23.62" lengthAdjust="spacingAndGlyphs" text-anchor="middle"  stroke="#000" stroke-width="0.12" style="font-family:'Liberation Serif', serif">0.25</text><text x="95.48" y="158.80" font-size="11.54" textLength="23.62" lengthAdjust="spacingAndGlyphs" text-anchor="middle"  stroke="#000" stroke-width="0.12" style="font-family:'Liberation Serif', serif">0.50</text><text x="128.49" y="158.80" font-size="11.54" textLength="23.62" lengthAdjust="spacingAndGlyphs" text-anchor="middle"  stroke="#000" stroke-width="0.12" style="font-family:'Liberation Serif', serif">0.75</text><text x="161.50" y="158.80" font-size="11.54" textLength="23.62" lengthAdjust="spacingAndGlyphs" text-anchor="middle"  stroke="#000" stroke-width="0.12" style="font-family:'Liberation Serif', serif">1.00</text><text x="24.95" y="133.40" font-size="11.54" textLength="6.55" lengthAdjust="spacingAndGlyphs" text-anchor="end"  stroke="#000" stroke-width="0.12" style="font-family:'Liberation Serif', serif">0</text><text x="24.95" y="100.62" font-size="11.54" textLength="6.55" lengthAdjust="spacingAndGlyphs" text-anchor="end"  stroke="#000" stroke-width="0.12" style="font-family:'Liberation Serif', serif">2</text><text x="24.95" y="67.84" font-size="11.54" textLength="6.55" lengthAdjust="spacingAndGlyphs" text-anchor="end"  stroke="#000" stroke-width="0.12" style="font-family:'Liberation Serif', serif">4</text><text x="24.95" y="35.06" font-size="11.54" textLength="6.55" lengthAdjust="spacingAndGlyphs" text-anchor="end"  stroke="#000" stroke-width="0.12" style="font-family:'Liberation Serif', serif">6</text><text x="29.65" y="11.66" font-size="11.54" textLength="34.39" lengthAdjust="spacingAndGlyphs" text-anchor="start"  stroke="#000" stroke-width="0.12" style="font-family:'Liberation Serif', serif">1e−12</text><text x="95.48" y="174.00" font-size="11.65" textLength="69.28" lengthAdjust="spacingAndGlyphs" text-anchor="middle"  stroke="#000" stroke-width="0.12" style="font-family:'Liberation Serif', serif">orbital phase</text><g transform="translate(10.10,81.53) rotate(-90)"><text x="-74.72" y="0.00" font-size="11.65" textLength="131.37" lengthAdjust="spacingAndGlyphs" text-anchor="start"  stroke="#000" stroke-width="0.12" style="font-family:'Liberation Serif', serif">Flux 0.3-10 keV (erg/(cm</text><text x="56.64" y="-3.80" font-size="8.15" textLength="4.63" lengthAdjust="spacingAndGlyphs" text-anchor="start"  stroke="#000" stroke-width="0.12" style="font-family:'Liberation Serif', serif">2</text><text x="61.27" y="0.00" font-size="11.65" textLength="13.45" lengthAdjust="spacingAndGlyphs" text-anchor="start"  stroke="#000" stroke-width="0.12" style="font-family:'Liberation Serif', serif">s))</text></g><text x="42.45" y="28.41" font-size="9.46" textLength="39.92" lengthAdjust="spacingAndGlyphs" text-anchor="start"  stroke="#000" stroke-width="0.12" style="font-family:'Liberation Serif', serif">Orbit 16:</text><text x="42.45" y="38.41" font-size="9.46" textLength="50.32" lengthAdjust="spacingAndGlyphs" text-anchor="start"  stroke="#000" stroke-width="0.12" style="font-family:'Liberation Serif', serif">MJD 57712</text></g><g transform="translate(0.00,739.20)"><use href="#mdl"/><line x1="29.70" y1="129.50" x2="161.30" y2="129.50" stroke="#666" stroke-width="1.9" stroke-dasharray="1.75,3.395"/><g clip-path="url(#ac)"><line x1="59.03" y1="99.01" x2="59.03" y2="90.82" stroke="#1f77b4" stroke-width="0.95"/><line x1="60.35" y1="101.64" x2="60.35" y2="97.70" stroke="#1f77b4" stroke-width="0.95"/><line x1="60.35" y1="113.60" x2="60.35" y2="109.67" stroke="#1f77b4" stroke-width="0.95"/><line x1="77.52" y1="81.15" x2="77.52" y2="43.94" stroke="#1f77b4" stroke-width="0.95"/><line x1="77.25" y1="85.57" x2="77.25" y2="75.74" stroke="#1f77b4" stroke-width="0.95"/><line x1="76.72" y1="89.02" x2="76.72" y2="79.18" stroke="#1f77b4" stroke-width="0.95"/><line x1="76.33" y1="92.46" x2="76.33" y2="82.62" stroke="#1f77b4" stroke-width="0.95"/><line x1="80.16" y1="101.80" x2="80.16" y2="90.33" stroke="#1f77b4" stroke-width="0.95"/><line x1="80.55" y1="118.68" x2="80.55" y2="107.21" stroke="#1f77b4" stroke-width="0.95"/><line x1="83.99" y1="122.78" x2="83.99" y2="108.85" stroke="#1f77b4" stroke-width="0.95"/><line x1="82.93" y1="128.84" x2="82.93" y2="122.29" stroke="#1f77b4" stroke-width="0.95"/><line x1="86.89" y1="124.58" x2="86.89" y2="109.01" stroke="#1f77b4" stroke-width="0.95"/><circle cx="59.03" cy="95.74" r="3.3" fill="#1f77b4"/><circle cx="60.35" cy="99.67" r="3.3" fill="#1f77b4"/><circle cx="60.35" cy="111.63" r="3.3" fill="#1f77b4"/><circle cx="77.52" cy="59.84" r="3.3" fill="#1f77b4"/><circle cx="77.25" cy="80.66" r="3.3" fill="#1f77b4"/><circle cx="76.72" cy="84.10" r="3.3" fill="#1f77b4"/><circle cx="76.33" cy="87.54" r="3.3" fill="#1f77b4"/><circle cx="80.16" cy="95.24" r="3.3" fill="#1f77b4"/><circle cx="80.55" cy="112.13" r="3.3" fill="#1f77b4"/><circle cx="83.99" cy="114.59" r="3.3" fill="#1f77b4"/><circle cx="82.93" cy="125.57" r="3.3" fill="#1f77b4"/><circle cx="86.89" cy="116.39" r="3.3" fill="#1f77b4"/><circle cx="80.29" cy="119.34" r="3.3" fill="#e377c2"/><circle cx="80.55" cy="121.31" r="3.3" fill="#e377c2"/><circle cx="87.42" cy="117.37" r="3.3" fill="#e377c2"/><circle cx="50.18" cy="100.98" r="3.3" fill="#bcbd22"/><circle cx="59.03" cy="103.44" r="3.3" fill="#bcbd22"/></g><rect x="102.54" y="18.66" width="56.01" height="30.64" rx="1.5" fill="#fff" fill-opacity="0.8" stroke="#ebebeb" stroke-width="0.9"/><circle cx="111.64" cy="24.20" r="3.25" fill="#1f77b4"/><text x="123.34" y="26.90" font-size="7.00" textLength="16.31" lengthAdjust="spacingAndGlyphs" text-anchor="start" font-style="italic" stroke="#000" stroke-width="0.04" style="font-family:'Liberation Sans', sans-serif">Swift</text><text x="139.65" y="26.90" font-size="7.00" textLength="15.50" lengthAdjust="spacingAndGlyphs" text-anchor="start"  stroke="#000" stroke-width="0.04" style="font-family:'Liberation Sans', sans-serif">-XRT</text><circle cx="111.64" cy="33.85" r="3.25" fill="#e377c2"/><text x="123.34" y="36.75" font-size="7.17" textLength="27.93" lengthAdjust="spacingAndGlyphs" text-anchor="start"  stroke="#000" stroke-width="0.06" style="font-family:'Liberation Serif', serif">Chandra</text><circle cx="111.64" cy="43.50" r="3.25" fill="#bcbd22"/><text x="123.34" y="46.40" font-size="7.17" textLength="27.82" lengthAdjust="spacingAndGlyphs" text-anchor="start"  stroke="#000" stroke-width="0.06" style="font-family:'Liberation Serif', serif">NuSTAR</text><rect x="29.45" y="15.56" width="131.85" height="130.34" fill="none" stroke="#000" stroke-width="1.22"/><path d="M62.46,145.90v-4.5M62.46,15.56v4.5M95.48,145.90v-4.5M95.48,15.56v4.5M128.49,145.90v-4.5M128.49,15.56v4.5M29.45,129.50h4.5M161.30,129.50h-4.5M29.45,96.72h4.5M161.30,96.72h-4.5M29.45,63.94h4.5M161.30,63.94h-4.5M29.45,31.16h4.5M161.30,31.16h-4.5" stroke="#000" stroke-width="1.1" fill="none"/><text x="29.45" y="158.80" font-size="11.54" textLength="23.62" lengthAdjust="spacingAndGlyphs" text-anchor="middle"  stroke="#000" stroke-width="0.12" style="font-family:'Liberation Serif', serif">0.00</text><text x="62.46" y="158.80" font-size="11.54" textLength="23.62" lengthAdjust="spacingAndGlyphs" text-anchor="middle"  stroke="#000" stroke-width="0.12" style="font-family:'Liberation Serif', serif">0.25</text><text x="95.48" y="158.80" font-size="11.54" textLength="23.62" lengthAdjust="spacingAndGlyphs" text-anchor="middle"  stroke="#000" stroke-width="0.12" style="font-family:'Liberation Serif', serif">0.50</text><text x="128.49" y="158.80" font-size="11.54" textLength="23.62" lengthAdjust="spacingAndGlyphs" text-anchor="middle"  stroke="#000" stroke-width="0.12" style="font-family:'Liberation Serif', serif">0.75</text><text x="161.50" y="158.80" font-size="11.54" textLength="23.62" lengthAdjust="spacingAndGlyphs" text-anchor="middle"  stroke="#000" stroke-width="0.12" style="font-family:'Liberation Serif', serif">1.00</text><text x="24.95" y="133.40" font-size="11.54" textLength="6.55" lengthAdjust="spacingAndGlyphs" text-anchor="end"  stroke="#000" stroke-width="0.12" style="font-family:'Liberation Serif', serif">0</text><text x="24.95" y="100.62" font-size="11.54" textLength="6.55" lengthAdjust="spacingAndGlyphs" text-anchor="end"  stroke="#000" stroke-width="0.12" style="font-family:'Liberation Serif', serif">2</text><text x="24.95" y="67.84" font-size="11.54" textLength="6.55" lengthAdjust="spacingAndGlyphs" text-anchor="end"  stroke="#000" stroke-width="0.12" style="font-family:'Liberation Serif', serif">4</text><text x="24.95" y="35.06" font-size="11.54" textLength="6.55" lengthAdjust="spacingAndGlyphs" text-anchor="end"  stroke="#000" stroke-width="0.12" style="font-family:'Liberation Serif', serif">6</text><text x="29.65" y="11.66" font-size="11.54" textLength="34.39" lengthAdjust="spacingAndGlyphs" text-anchor="start"  stroke="#000" stroke-width="0.12" style="font-family:'Liberation Serif', serif">1e−12</text><text x="95.48" y="174.00" font-size="11.65" textLength="69.28" lengthAdjust="spacingAndGlyphs" text-anchor="middle"  stroke="#000" stroke-width="0.12" style="font-family:'Liberation Serif', serif">orbital phase</text><g transform="translate(10.10,81.53) rotate(-90)"><text x="-74.72" y="0.00" font-size="11.65" textLength="131.37" lengthAdjust="spacingAndGlyphs" text-anchor="start"  stroke="#000" stroke-width="0.12" style="font-family:'Liberation Serif', serif">Flux 0.3-10 keV (erg/(cm</text><text x="56.64" y="-3.80" font-size="8.15" textLength="4.63" lengthAdjust="spacingAndGlyphs" text-anchor="start"  stroke="#000" stroke-width="0.12" style="font-family:'Liberation Serif', serif">2</text><text x="61.27" y="0.00" font-size="11.65" textLength="13.45" lengthAdjust="spacingAndGlyphs" text-anchor="start"  stroke="#000" stroke-width="0.12" style="font-family:'Liberation Serif', serif">s))</text></g><text x="42.45" y="28.41" font-size="9.46" textLength="39.92" lengthAdjust="spacingAndGlyphs" text-anchor="start"  stroke="#000" stroke-width="0.12" style="font-family:'Liberation Serif', serif">Orbit 17:</text><text x="42.45" y="38.41" font-size="9.46" textLength="50.32" lengthAdjust="spacingAndGlyphs" text-anchor="start"  stroke="#000" stroke-width="0.12" style="font-family:'Liberation Serif', serif">MJD 58030</text></g><g transform="translate(184.35,739.20)"><use href="#mdl"/><line x1="29.70" y1="129.50" x2="161.30" y2="129.50" stroke="#666" stroke-width="1.9" stroke-dasharray="1.75,3.395"/><g clip-path="url(#ac)"><line x1="75.14" y1="97.05" x2="75.14" y2="90.49" stroke="#1f77b4" stroke-width="0.95"/><line x1="76.99" y1="100.98" x2="76.99" y2="91.15" stroke="#1f77b4" stroke-width="0.95"/><line x1="78.97" y1="105.08" x2="78.97" y2="95.24" stroke="#1f77b4" stroke-width="0.95"/><circle cx="75.14" cy="93.77" r="3.3" fill="#1f77b4"/><circle cx="76.99" cy="96.06" r="3.3" fill="#1f77b4"/><circle cx="78.97" cy="98.52" r="3.3" fill="#1f77b4"/></g><rect x="102.54" y="18.66" width="56.01" height="11.34" rx="1.5" fill="#fff" fill-opacity="0.8" stroke="#ebebeb" stroke-width="0.9"/><circle cx="111.64" cy="24.20" r="3.25" fill="#1f77b4"/><text x="123.34" y="26.90" font-size="7.00" textLength="16.31" lengthAdjust="spacingAndGlyphs" text-anchor="start" font-style="italic" stroke="#000" stroke-width="0.04" style="font-family:'Liberation Sans', sans-serif">Swift</text><text x="139.65" y="26.90" font-size="7.00" textLength="15.50" lengthAdjust="spacingAndGlyphs" text-anchor="start"  stroke="#000" stroke-width="0.04" style="font-family:'Liberation Sans', sans-serif">-XRT</text><rect x="29.45" y="15.56" width="131.85" height="130.34" fill="none" stroke="#000" stroke-width="1.22"/><path d="M62.46,145.90v-4.5M62.46,15.56v4.5M95.48,145.90v-4.5M95.48,15.56v4.5M128.49,145.90v-4.5M128.49,15.56v4.5M29.45,129.50h4.5M161.30,129.50h-4.5M29.45,96.72h4.5M161.30,96.72h-4.5M29.45,63.94h4.5M161.30,63.94h-4.5M29.45,31.16h4.5M161.30,31.16h-4.5" stroke="#000" stroke-width="1.1" fill="none"/><text x="29.45" y="158.80" font-size="11.54" textLength="23.62" lengthAdjust="spacingAndGlyphs" text-anchor="middle"  stroke="#000" stroke-width="0.12" style="font-family:'Liberation Serif', serif">0.00</text><text x="62.46" y="158.80" font-size="11.54" textLength="23.62" lengthAdjust="spacingAndGlyphs" text-anchor="middle"  stroke="#000" stroke-width="0.12" style="font-family:'Liberation Serif', serif">0.25</text><text x="95.48" y="158.80" font-size="11.54" textLength="23.62" lengthAdjust="spacingAndGlyphs" text-anchor="middle"  stroke="#000" stroke-width="0.12" style="font-family:'Liberation Serif', serif">0.50</text><text x="128.49" y="158.80" font-size="11.54" textLength="23.62" lengthAdjust="spacingAndGlyphs" text-anchor="middle"  stroke="#000" stroke-width="0.12" style="font-family:'Liberation Serif', serif">0.75</text><text x="161.50" y="158.80" font-size="11.54" textLength="23.62" lengthAdjust="spacingAndGlyphs" text-anchor="middle"  stroke="#000" stroke-width="0.12" style="font-family:'Liberation Serif', serif">1.00</text><text x="24.95" y="133.40" font-size="11.54" textLength="6.55" lengthAdjust="spacingAndGlyphs" text-anchor="end"  stroke="#000" stroke-width="0.12" style="font-family:'Liberation Serif', serif">0</text><text x="24.95" y="100.62" font-size="11.54" textLength="6.55" lengthAdjust="spacingAndGlyphs" text-anchor="end"  stroke="#000" stroke-width="0.12" style="font-family:'Liberation Serif', serif">2</text><text x="24.95" y="67.84" font-size="11.54" textLength="6.55" lengthAdjust="spacingAndGlyphs" text-anchor="end"  stroke="#000" stroke-width="0.12" style="font-family:'Liberation Serif', serif">4</text><text x="24.95" y="35.06" font-size="11.54" textLength="6.55" lengthAdjust="spacingAndGlyphs" text-anchor="end"  stroke="#000" stroke-width="0.12" style="font-family:'Liberation Serif', serif">6</text><text x="29.65" y="11.66" font-size="11.54" textLength="34.39" lengthAdjust="spacingAndGlyphs" text-anchor="start"  stroke="#000" stroke-width="0.12" style="font-family:'Liberation Serif', serif">1e−12</text><text x="95.48" y="174.00" font-size="11.65" textLength="69.28" lengthAdjust="spacingAndGlyphs" text-anchor="middle"  stroke="#000" stroke-width="0.12" style="font-family:'Liberation Serif', serif">orbital phase</text><g transform="translate(10.10,81.53) rotate(-90)"><text x="-74.72" y="0.00" font-size="11.65" textLength="131.37" lengthAdjust="spacingAndGlyphs" text-anchor="start"  stroke="#000" stroke-width="0.12" style="font-family:'Liberation Serif', serif">Flux 0.3-10 keV (erg/(cm</text><text x="56.64" y="-3.80" font-size="8.15" textLength="4.63" lengthAdjust="spacingAndGlyphs" text-anchor="start"  stroke="#000" stroke-width="0.12" style="font-family:'Liberation Serif', serif">2</text><text x="61.27" y="0.00" font-size="11.65" textLength="13.45" lengthAdjust="spacingAndGlyphs" text-anchor="start"  stroke="#000" stroke-width="0.12" style="font-family:'Liberation Serif', serif">s))</text></g><text x="42.45" y="28.41" font-size="9.46" textLength="39.92" lengthAdjust="spacingAndGlyphs" text-anchor="start"  stroke="#000" stroke-width="0.12" style="font-family:'Liberation Serif', serif">Orbit 18:</text><text x="42.45" y="38.41" font-size="9.46" textLength="50.32" lengthAdjust="spacingAndGlyphs" text-anchor="start"  stroke="#000" stroke-width="0.12" style="font-family:'Liberation Serif', serif">MJD 58347</text></g></svg></body></html>
